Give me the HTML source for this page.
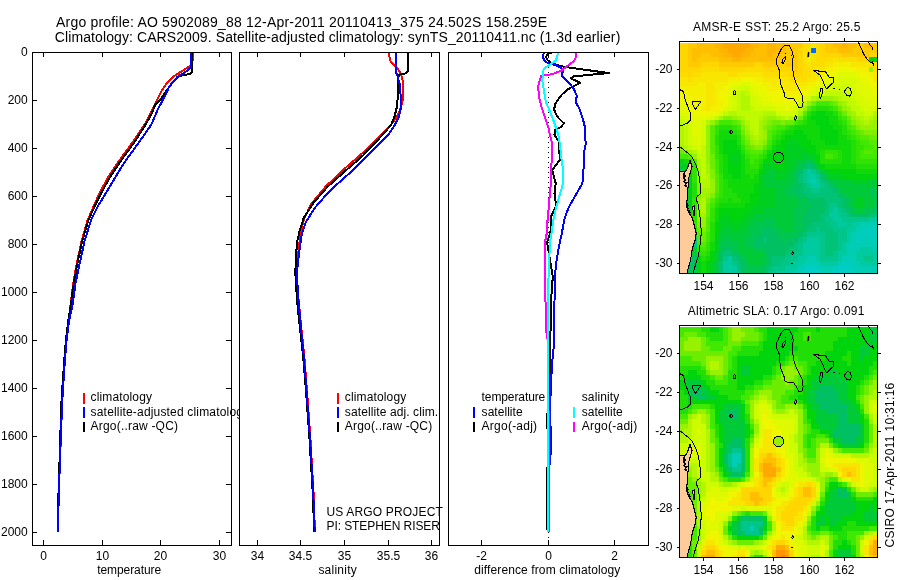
<!DOCTYPE html>
<html><head><meta charset="utf-8"><title>Argo profile</title>
<style>html,body{margin:0;padding:0;background:#fff;width:900px;height:580px;overflow:hidden}</style></head>
<body>
<svg width="900" height="580" viewBox="0 0 900 580" style="position:absolute;left:0;top:0;will-change:transform" font-family="'Liberation Sans', sans-serif" font-size="12" fill="#000" shape-rendering="crispEdges" text-rendering="optimizeLegibility">
<rect width="900" height="580" fill="#fff"/>
<defs><clipPath id="c1"><rect x="33" y="53" width="198" height="492"/></clipPath><clipPath id="c2"><rect x="240" y="53" width="199" height="492"/></clipPath><clipPath id="c3"><rect x="449" y="53" width="199" height="492"/></clipPath></defs>
<text x="56" y="26.5" font-size="14" textLength="491" lengthAdjust="spacing">Argo profile: AO 5902089_88 12-Apr-2011 20110413_375 24.502S 158.259E</text>
<text x="54.8" y="42.2" font-size="14" textLength="565.5" lengthAdjust="spacing">Climatology: CARS2009. Satellite-adjusted climatology: synTS_20110411.nc (1.3d earlier)</text>
<rect x="32.5" y="52.5" width="199" height="493" fill="#fff" stroke="#000" stroke-width="1"/>
<text x="27.7" y="56.1" text-anchor="end">0</text>
<path d="M33 100.5h4M231 100.5h-5" stroke="#000" stroke-width="1"/>
<text x="27.7" y="104.1" text-anchor="end">200</text>
<path d="M33 148.5h4M231 148.5h-5" stroke="#000" stroke-width="1"/>
<text x="27.7" y="152.1" text-anchor="end">400</text>
<path d="M33 196.5h4M231 196.5h-5" stroke="#000" stroke-width="1"/>
<text x="27.7" y="200.1" text-anchor="end">600</text>
<path d="M33 244.5h4M231 244.5h-5" stroke="#000" stroke-width="1"/>
<text x="27.7" y="248.1" text-anchor="end">800</text>
<path d="M33 292.5h4M231 292.5h-5" stroke="#000" stroke-width="1"/>
<text x="27.7" y="296.1" text-anchor="end">1000</text>
<path d="M33 340.5h4M231 340.5h-5" stroke="#000" stroke-width="1"/>
<text x="27.7" y="344.1" text-anchor="end">1200</text>
<path d="M33 388.5h4M231 388.5h-5" stroke="#000" stroke-width="1"/>
<text x="27.7" y="392.1" text-anchor="end">1400</text>
<path d="M33 436.5h4M231 436.5h-5" stroke="#000" stroke-width="1"/>
<text x="27.7" y="440.1" text-anchor="end">1600</text>
<path d="M33 484.5h4M231 484.5h-5" stroke="#000" stroke-width="1"/>
<text x="27.7" y="488.1" text-anchor="end">1800</text>
<path d="M33 532.5h4M231 532.5h-5" stroke="#000" stroke-width="1"/>
<text x="27.7" y="536.1" text-anchor="end">2000</text>
<path d="M43.5 545v-5M43.5 53v4" stroke="#000" stroke-width="1"/>
<text x="43.5" y="559.7" text-anchor="middle">0</text>
<path d="M102.5 545v-5M102.5 53v4" stroke="#000" stroke-width="1"/>
<text x="102.5" y="559.7" text-anchor="middle">10</text>
<path d="M160.5 545v-5M160.5 53v4" stroke="#000" stroke-width="1"/>
<text x="160.5" y="559.7" text-anchor="middle">20</text>
<path d="M219.5 545v-5M219.5 53v4" stroke="#000" stroke-width="1"/>
<text x="219.5" y="559.7" text-anchor="middle">30</text>
<g shape-rendering="crispEdges" clip-path="url(#c1)">
<polyline points="192.8,52.0 192.8,60.0 190.7,65.7 181.7,71.2 173.4,76.7 166.5,83.6 161.0,91.9 156.2,101.5 150.0,114.0 145.2,123.6 132.4,142.6 118.6,161.6 108.3,177.0 99.7,192.6 94.2,205.0 87.5,220.5 81.5,241.2 76.4,265.3 73.1,284.3 70.6,304.0 68.6,320.7 66.2,341.4 64.6,362.0 63.3,382.8 62.1,403.5 60.9,437.0 58.8,493.8 57.9,532.0" fill="none" stroke="#f00" stroke-width="2" stroke-linejoin="round"/>
<polyline points="192.4,52.0 192.4,71.2 190.0,74.0 179.0,76.0 172.8,82.2 166.5,90.5 161.0,98.8 155.5,104.3 151.4,114.0 146.2,123.6 134.1,142.6 120.3,161.6 110.0,177.0 101.4,192.6 95.2,205.0 88.3,220.5 82.2,241.2 77.0,265.3 73.6,284.3 71.0,304.0 68.3,320.7 65.8,341.4 64.1,362.0 62.7,382.8 61.4,403.5 60.3,437.0 58.5,493.8 57.9,532.0" fill="none" stroke="#000" stroke-width="2" stroke-linejoin="round"/>
<polyline points="191.2,52.0 191.2,66.4 187.0,71.0 177.6,76.7 169.3,86.4 165.0,96.0 158.3,108.4 151.4,124.3 149.7,127.0 137.6,144.3 123.8,163.3 113.4,180.5 103.1,197.8 98.6,205.0 90.9,220.5 84.5,241.2 79.3,265.3 75.3,284.3 72.8,304.0 69.0,320.7 66.5,341.4 64.8,362.0 63.4,382.8 62.1,403.5 60.8,437.0 58.8,493.8 57.9,532.0" fill="none" stroke="#00f" stroke-width="2" stroke-linejoin="round"/>
</g>
<rect x="83" y="393" width="2" height="11" fill="#f00"/>
<text x="90.6" y="401.3" textLength="61.4" lengthAdjust="spacing">climatology</text>
<rect x="83" y="407" width="2" height="11" fill="#00f"/>
<text x="90.6" y="415.6" textLength="158.5" lengthAdjust="spacing">satellite-adjusted climatology</text>
<rect x="83" y="422" width="2" height="10" fill="#000"/>
<text x="90.6" y="429.9" textLength="87.4" lengthAdjust="spacing">Argo(..raw -QC)</text>
<text x="97.2" y="574.4" textLength="63.9" lengthAdjust="spacing">temperature</text>
<rect x="239.5" y="52.5" width="200" height="493" fill="#fff" stroke="#000" stroke-width="1"/>
<path d="M257.5 545v-5M257.5 53v4" stroke="#000" stroke-width="1"/>
<text x="257.5" y="559.7" text-anchor="middle">34</text>
<path d="M300.5 545v-5M300.5 53v4" stroke="#000" stroke-width="1"/>
<text x="300.5" y="559.7" text-anchor="middle">34.5</text>
<path d="M344.5 545v-5M344.5 53v4" stroke="#000" stroke-width="1"/>
<text x="344.5" y="559.7" text-anchor="middle">35</text>
<path d="M388.5 545v-5M388.5 53v4" stroke="#000" stroke-width="1"/>
<text x="388.5" y="559.7" text-anchor="middle">35.5</text>
<path d="M431.5 545v-5M431.5 53v4" stroke="#000" stroke-width="1"/>
<text x="431.5" y="559.7" text-anchor="middle">36</text>
<g shape-rendering="crispEdges" clip-path="url(#c2)">
<polyline points="389.1,52.0 389.7,59.7 392.6,64.0 397.8,69.1 401.2,74.3 402.9,82.0 403.4,89.8 402.4,101.9 399.5,111.4 395.2,119.1 390.0,126.0 379.7,136.4 360.7,154.7 344.1,169.1 325.5,186.7 311.0,204.3 303.8,219.8 300.7,232.2 298.2,254.0 296.6,272.6 298.6,300.2 301.3,327.8 304.2,355.3 306.4,383.0 308.0,405.0 310.3,436.9 313.6,493.8 314.9,532.0" fill="none" stroke="#f00" stroke-width="2" stroke-linejoin="round"/>
<polyline points="407.8,52.0 408.0,70.9 405.5,73.4 399.5,74.7 397.8,77.8 397.8,96.7 396.9,107.0 394.3,117.4 390.9,125.2 384.0,133.0 382.4,135.0 362.8,155.7 346.2,170.2 327.6,186.7 313.1,203.3 303.8,217.8 299.7,230.2 297.0,242.6 296.2,254.0 295.3,272.6 297.0,300.2 299.9,327.8 303.0,355.3 305.4,383.0 307.0,405.0 309.4,436.9 312.8,493.8 314.2,532.0" fill="none" stroke="#000" stroke-width="2" stroke-linejoin="round"/>
<polyline points="395.5,52.0 395.5,70.9 397.8,76.9 399.8,84.7 400.7,96.7 400.7,108.8 398.6,117.4 394.3,126.0 388.3,134.7 369.0,153.6 348.3,174.3 329.7,190.9 315.2,207.4 305.9,221.9 301.7,234.3 299.0,254.0 296.8,272.6 298.4,300.2 300.9,327.8 303.7,355.3 305.9,383.0 307.5,405.0 309.9,436.9 313.3,493.8 314.7,532.0" fill="none" stroke="#00f" stroke-width="2" stroke-linejoin="round"/>
</g>
<rect x="337" y="393" width="2" height="11" fill="#f00"/>
<text x="344.8" y="401.3" textLength="61.4" lengthAdjust="spacing">climatology</text>
<rect x="337" y="407" width="2" height="11" fill="#00f"/>
<text x="344.8" y="415.6" textLength="93.4" lengthAdjust="spacing">satellite adj. clim.</text>
<rect x="337" y="422" width="2" height="10" fill="#000"/>
<text x="344.8" y="429.9" textLength="87.4" lengthAdjust="spacing">Argo(..raw -QC)</text>
<text x="326.5" y="516.3" textLength="116.3" lengthAdjust="spacing">US ARGO PROJECT</text>
<text x="326.5" y="530.4" textLength="113.4" lengthAdjust="spacing">PI: STEPHEN RISER</text>
<text x="318.4" y="574.4" textLength="38.3" lengthAdjust="spacing">salinity</text>
<rect x="448.5" y="52.5" width="200" height="493" fill="#fff" stroke="#000" stroke-width="1"/>
<path d="M481.5 545v-5M481.5 53v4" stroke="#000" stroke-width="1"/>
<text x="481.5" y="559.7" text-anchor="middle">-2</text>
<path d="M548.5 545v-5M548.5 53v4" stroke="#000" stroke-width="1"/>
<text x="548.5" y="559.7" text-anchor="middle">0</text>
<path d="M614.5 545v-5M614.5 53v4" stroke="#000" stroke-width="1"/>
<text x="614.5" y="559.7" text-anchor="middle">2</text>
<path d="M548.5 52V545" stroke="#000" stroke-width="1" stroke-dasharray="1 4" fill="none"/>
<g shape-rendering="crispEdges" clip-path="url(#c3)">
<polyline points="552.5,52.0 547.7,54.2 545.9,57.2 547.7,60.3 551.3,63.0 560.3,66.0 571.2,67.8 589.0,70.3 608.8,73.1 589.0,74.9 573.6,76.5 570.6,78.3 577.2,81.4 580.3,82.6 575.2,85.5 568.3,89.0 561.4,95.0 555.3,103.6 554.1,109.7 555.9,114.0 558.8,118.3 564.0,123.4 560.5,127.4 555.3,129.5 554.5,134.7 557.1,139.0 559.1,141.9 559.7,160.0 552.2,170.3 555.7,183.3 554.5,193.6 556.2,205.7 550.5,217.8 551.0,228.1 550.0,234.1 547.1,242.2 550.5,262.9 552.8,276.7 551.5,294.0 550.6,324.0 550.4,340.9 549.8,358.1 549.4,382.2 548.8,410.0 547.0,415.0 547.0,427.0 548.6,432.0 548.8,440.0 547.2,474.0 547.2,528.0 548.0,532.0" fill="none" stroke="#000" stroke-width="2" stroke-linejoin="round"/>
<polyline points="544.0,52.0 542.8,56.9 544.7,60.9 548.9,63.6 554.9,64.8 560.9,67.5 563.3,70.5 561.5,75.3 566.4,80.2 573.4,88.1 576.9,95.9 575.5,101.9 579.5,108.8 582.9,119.1 585.5,129.5 584.7,136.4 585.9,142.8 584.1,152.2 583.8,166.0 582.4,183.3 575.5,195.3 568.6,207.4 564.3,219.5 561.7,234.1 559.1,245.7 555.7,266.4 554.8,287.0 554.0,324.0 553.8,346.0 552.6,358.0 551.4,375.3 550.3,401.2 549.8,420.0 551.0,430.0 550.6,454.0 549.0,470.0 548.3,532.0" fill="none" stroke="#00f" stroke-width="2" stroke-linejoin="round"/>
<polyline points="575.4,52.0 576.0,57.2 573.6,61.5 567.6,65.7 561.5,70.5 554.9,73.2 548.9,74.7 544.0,75.0 541.0,75.9 539.5,81.4 538.1,86.4 539.0,96.7 541.6,107.0 545.0,117.4 548.4,127.8 550.0,135.0 552.2,143.6 552.2,157.4 550.5,171.2 550.5,186.7 549.3,200.5 548.3,212.6 547.1,224.7 546.6,234.1 545.3,240.5 545.3,276.7 545.7,324.0 546.2,331.0 547.6,340.0 548.0,400.0 549.4,430.0 549.4,530.0 548.5,532.0" fill="none" stroke="#f0f" stroke-width="2" stroke-linejoin="round"/>
<polyline points="557.9,52.0 557.3,57.2 554.9,61.5 548.9,65.1 544.0,68.7 542.8,71.7 542.4,81.2 544.1,91.6 545.9,101.9 550.2,112.2 553.6,120.9 556.6,129.5 558.3,135.0 560.0,145.3 561.7,160.9 563.1,169.5 562.6,185.0 559.1,197.1 555.7,209.1 553.1,221.2 551.4,234.1 550.0,242.2 548.8,268.1 548.0,294.0 548.0,324.0 548.0,414.0 548.2,440.0 548.2,532.0" fill="none" stroke="#0ff" stroke-width="2" stroke-linejoin="round"/>
</g>
<text x="481.6" y="401.3" textLength="63.7" lengthAdjust="spacing">temperature</text>
<rect x="473" y="407" width="2" height="11" fill="#00f"/>
<text x="481.6" y="415.6" textLength="41" lengthAdjust="spacing">satellite</text>
<rect x="473" y="422" width="2" height="10" fill="#000"/>
<text x="481.6" y="429.9" textLength="55.5" lengthAdjust="spacing">Argo(-adj)</text>
<text x="581.7" y="401.3" textLength="37.6" lengthAdjust="spacing">salinity</text>
<rect x="573" y="407" width="2" height="11" fill="#0ff"/>
<text x="581.7" y="415.6" textLength="41" lengthAdjust="spacing">satellite</text>
<rect x="573" y="422" width="2" height="10" fill="#f0f"/>
<text x="581.7" y="429.9" textLength="55.5" lengthAdjust="spacing">Argo(-adj)</text>
<text x="474.3" y="574.4" textLength="146" lengthAdjust="spacing">difference from climatology</text>
<g shape-rendering="crispEdges">
<path fill="#006cfc" d="M811 48h5v5h-5z"/>
<path fill="#00cdc6" d="M807 266h9v5h-9zM838 266h9v5h-9zM803 271h17v2h-17zM833 271h18v2h-18z"/>
<path fill="#00cdbd" d="M864 227h13v5h-13zM860 232h17v5h-17zM856 237h8v5h-8zM873 237h4v5h-4zM842 261h9v5h-9zM803 266h4v5h-4zM816 266h4v5h-4zM833 266h5v5h-5zM847 266h9v5h-9zM829 271h4v2h-4zM851 271h5v2h-5z"/>
<path fill="#00cdb4" d="M811 179h5v4h-5zM860 222h17v5h-17zM856 227h8v5h-8zM851 232h9v5h-9zM851 237h5v5h-5zM864 237h9v5h-9zM847 242h30v5h-30zM847 247h13v4h-13zM873 247h4v4h-4zM847 251h9v5h-9zM807 256h9v5h-9zM842 256h14v5h-14zM803 261h17v5h-17zM838 261h4v5h-4zM851 261h9v5h-9zM798 266h5v5h-5zM820 266h13v5h-13zM856 266h21v5h-21zM794 271h9v2h-9zM820 271h9v2h-9zM856 271h21v2h-21z"/>
<path fill="#00caa0" d="M807 169h4v5h-4zM807 174h9v5h-9zM807 179h4v4h-4zM816 179h4v4h-4zM811 183h9v5h-9zM833 208h5v5h-5zM829 213h9v4h-9zM833 217h9v5h-9zM869 217h8v5h-8zM838 222h9v5h-9zM851 222h9v5h-9zM847 227h9v5h-9zM847 232h4v5h-4zM807 237h13v5h-13zM847 237h4v5h-4zM803 242h17v5h-17zM842 242h5v5h-5zM803 247h17v4h-17zM842 247h5v4h-5zM860 247h13v4h-13zM803 251h17v5h-17zM838 251h9v5h-9zM856 251h21v5h-21zM688 256h4v5h-4zM728 256h4v5h-4zM798 256h9v5h-9zM816 256h4v5h-4zM838 256h4v5h-4zM856 256h8v5h-8zM873 256h4v5h-4zM723 261h9v5h-9zM794 261h9v5h-9zM820 261h18v5h-18zM860 261h17v5h-17zM723 266h14v5h-14zM785 266h13v5h-13zM723 271h14v2h-14zM776 271h18v2h-18z"/>
<path fill="#00c68c" d="M680 169h4v5h-4zM803 169h4v5h-4zM811 169h5v5h-5zM803 174h4v5h-4zM816 174h4v5h-4zM803 179h4v4h-4zM807 183h4v5h-4zM820 183h5v5h-5zM811 188h9v5h-9zM829 203h9v5h-9zM829 208h4v5h-4zM838 208h4v5h-4zM838 213h9v4h-9zM825 217h8v5h-8zM842 217h27v5h-27zM829 222h9v5h-9zM847 222h4v5h-4zM816 227h4v5h-4zM833 227h14v5h-14zM807 232h18v5h-18zM838 232h9v5h-9zM692 237h5v5h-5zM803 237h4v5h-4zM820 237h5v5h-5zM838 237h9v5h-9zM692 242h5v5h-5zM798 242h5v5h-5zM820 242h5v5h-5zM838 242h4v5h-4zM798 247h5v4h-5zM820 247h5v4h-5zM838 247h4v4h-4zM688 251h4v5h-4zM794 251h9v5h-9zM820 251h5v5h-5zM833 251h5v5h-5zM723 256h5v5h-5zM785 256h13v5h-13zM820 256h18v5h-18zM864 256h9v5h-9zM732 261h5v5h-5zM781 261h13v5h-13zM772 266h13v5h-13zM737 271h4v2h-4zM767 271h9v2h-9z"/>
<path fill="#00c378" d="M807 164h4v5h-4zM816 169h4v5h-4zM798 174h5v5h-5zM798 179h5v4h-5zM820 179h5v4h-5zM803 183h4v5h-4zM825 183h4v5h-4zM803 188h8v5h-8zM820 188h13v5h-13zM807 193h31v5h-31zM825 198h17v5h-17zM825 203h4v5h-4zM838 203h4v5h-4zM825 208h4v5h-4zM842 208h5v5h-5zM820 213h9v4h-9zM847 213h4v4h-4zM869 213h8v4h-8zM820 217h5v5h-5zM811 222h18v5h-18zM807 227h9v5h-9zM820 227h13v5h-13zM803 232h4v5h-4zM825 232h13v5h-13zM763 237h4v5h-4zM798 237h5v5h-5zM825 237h13v5h-13zM794 242h4v5h-4zM825 242h13v5h-13zM789 247h9v4h-9zM825 247h13v4h-13zM723 251h9v5h-9zM785 251h9v5h-9zM825 251h8v5h-8zM732 256h5v5h-5zM772 256h13v5h-13zM688 261h4v5h-4zM719 261h4v5h-4zM737 261h4v5h-4zM772 261h9v5h-9zM719 266h4v5h-4zM737 266h4v5h-4zM767 266h5v5h-5zM719 271h4v2h-4z"/>
<path fill="#00c064" d="M803 164h4v5h-4zM811 164h5v5h-5zM798 169h5v5h-5zM820 174h5v5h-5zM680 179h4v4h-4zM825 179h4v4h-4zM680 183h4v5h-4zM798 183h5v5h-5zM829 183h4v5h-4zM680 188h4v5h-4zM794 188h9v5h-9zM833 188h5v5h-5zM680 193h4v5h-4zM798 193h9v5h-9zM838 193h4v5h-4zM680 198h4v5h-4zM807 198h18v5h-18zM842 198h5v5h-5zM680 203h4v5h-4zM811 203h14v5h-14zM842 203h5v5h-5zM680 208h4v5h-4zM807 208h18v5h-18zM847 208h4v5h-4zM873 208h4v5h-4zM680 213h4v4h-4zM803 213h17v4h-17zM851 213h18v4h-18zM680 217h4v5h-4zM803 217h17v5h-17zM680 222h4v5h-4zM803 222h8v5h-8zM680 227h4v5h-4zM763 227h9v5h-9zM803 227h4v5h-4zM680 232h4v5h-4zM759 232h17v5h-17zM798 232h5v5h-5zM680 237h4v5h-4zM754 237h9v5h-9zM767 237h14v5h-14zM789 237h9v5h-9zM680 242h8v5h-8zM754 242h40v5h-40zM680 247h12v4h-12zM723 247h9v4h-9zM763 247h26v4h-26zM680 251h8v5h-8zM719 251h4v5h-4zM732 251h5v5h-5zM767 251h18v5h-18zM680 256h8v5h-8zM692 256h5v5h-5zM719 256h4v5h-4zM737 256h4v5h-4zM767 256h5v5h-5zM680 261h8v5h-8zM692 261h5v5h-5zM741 261h4v5h-4zM767 261h5v5h-5zM680 266h12v5h-12zM741 266h4v5h-4zM763 266h4v5h-4zM680 271h12v2h-12zM741 271h4v2h-4zM759 271h8v2h-8z"/>
<path fill="#00c54e" d="M803 159h8v5h-8zM798 164h5v5h-5zM794 169h4v5h-4zM794 174h4v5h-4zM684 179h4v4h-4zM789 179h9v4h-9zM829 179h4v4h-4zM684 183h4v5h-4zM789 183h9v5h-9zM833 183h5v5h-5zM684 188h4v5h-4zM785 188h9v5h-9zM838 188h4v5h-4zM869 188h8v5h-8zM684 193h4v5h-4zM785 193h13v5h-13zM842 193h5v5h-5zM869 193h8v5h-8zM684 198h4v5h-4zM798 198h9v5h-9zM847 198h4v5h-4zM873 198h4v5h-4zM684 203h4v5h-4zM798 203h13v5h-13zM847 203h4v5h-4zM873 203h4v5h-4zM684 208h4v5h-4zM794 208h13v5h-13zM851 208h5v5h-5zM864 208h9v5h-9zM684 213h4v4h-4zM794 213h9v4h-9zM684 217h4v5h-4zM763 217h13v5h-13zM794 217h9v5h-9zM684 222h4v5h-4zM754 222h22v5h-22zM794 222h9v5h-9zM684 227h4v5h-4zM750 227h13v5h-13zM772 227h9v5h-9zM794 227h9v5h-9zM684 232h4v5h-4zM750 232h9v5h-9zM776 232h22v5h-22zM684 237h4v5h-4zM723 237h9v5h-9zM745 237h9v5h-9zM781 237h8v5h-8zM688 242h4v5h-4zM719 242h18v5h-18zM745 242h9v5h-9zM719 247h4v4h-4zM732 247h5v4h-5zM754 247h9v4h-9zM737 251h4v5h-4zM763 251h4v5h-4zM741 256h4v5h-4zM763 256h4v5h-4zM715 261h4v5h-4zM745 261h5v5h-5zM763 261h4v5h-4zM692 266h5v5h-5zM715 266h4v5h-4zM745 266h18v5h-18zM692 271h5v2h-5zM715 271h4v2h-4zM745 271h14v2h-14z"/>
<path fill="#00ca38" d="M803 154h4v5h-4zM794 159h9v5h-9zM811 159h5v5h-5zM794 164h4v5h-4zM816 164h4v5h-4zM767 169h9v5h-9zM789 169h5v5h-5zM820 169h5v5h-5zM680 174h8v5h-8zM763 174h13v5h-13zM785 174h9v5h-9zM825 174h4v5h-4zM763 179h26v4h-26zM833 179h18v4h-18zM869 179h8v4h-8zM763 183h26v5h-26zM838 183h39v5h-39zM776 188h9v5h-9zM842 188h27v5h-27zM776 193h9v5h-9zM847 193h22v5h-22zM776 198h22v5h-22zM851 198h5v5h-5zM864 198h9v5h-9zM776 203h22v5h-22zM851 203h5v5h-5zM864 203h9v5h-9zM763 208h31v5h-31zM856 208h8v5h-8zM754 213h40v4h-40zM750 217h13v5h-13zM776 217h18v5h-18zM745 222h9v5h-9zM776 222h18v5h-18zM723 227h9v5h-9zM741 227h9v5h-9zM781 227h13v5h-13zM719 232h31v5h-31zM688 237h4v5h-4zM719 237h4v5h-4zM732 237h13v5h-13zM737 242h8v5h-8zM737 247h17v4h-17zM692 251h5v5h-5zM715 251h4v5h-4zM741 251h22v5h-22zM715 256h4v5h-4zM745 256h18v5h-18zM750 261h13v5h-13z"/>
<path fill="#00cf22" d="M789 140h9v5h-9zM785 145h18v5h-18zM785 150h22v4h-22zM732 154h5v5h-5zM785 154h18v5h-18zM807 154h9v5h-9zM732 159h5v5h-5zM785 159h9v5h-9zM680 164h8v5h-8zM763 164h13v5h-13zM785 164h9v5h-9zM684 169h4v5h-4zM763 169h4v5h-4zM776 169h13v5h-13zM825 169h4v5h-4zM688 174h4v5h-4zM759 174h4v5h-4zM776 174h9v5h-9zM829 174h13v5h-13zM688 179h4v4h-4zM759 179h4v4h-4zM851 179h18v4h-18zM688 183h4v5h-4zM759 183h4v5h-4zM688 188h4v5h-4zM759 188h17v5h-17zM688 193h4v5h-4zM759 193h17v5h-17zM688 198h4v5h-4zM759 198h17v5h-17zM856 198h8v5h-8zM688 203h4v5h-4zM754 203h22v5h-22zM856 203h8v5h-8zM688 208h4v5h-4zM750 208h13v5h-13zM688 213h4v4h-4zM723 213h5v4h-5zM745 213h9v4h-9zM719 217h13v5h-13zM741 217h9v5h-9zM719 222h26v5h-26zM688 227h4v5h-4zM719 227h4v5h-4zM732 227h9v5h-9zM688 232h4v5h-4zM715 237h4v5h-4zM715 242h4v5h-4zM692 247h5v4h-5zM715 247h4v4h-4zM710 261h5v5h-5zM710 266h5v5h-5zM710 271h5v2h-5z"/>
<path fill="#00d40c" d="M869 57h8v5h-8zM816 111h9v5h-9zM811 116h18v4h-18zM816 120h13v5h-13zM820 125h13v5h-13zM794 130h9v5h-9zM820 130h18v5h-18zM785 135h22v5h-22zM820 135h18v5h-18zM723 140h14v5h-14zM781 140h8v5h-8zM798 140h13v5h-13zM825 140h13v5h-13zM723 145h14v5h-14zM776 145h9v5h-9zM803 145h13v5h-13zM723 150h18v4h-18zM772 150h13v4h-13zM807 150h9v4h-9zM728 154h4v5h-4zM737 154h4v5h-4zM767 154h18v5h-18zM816 154h4v5h-4zM680 159h4v5h-4zM728 159h4v5h-4zM737 159h4v5h-4zM763 159h22v5h-22zM816 159h4v5h-4zM688 164h4v5h-4zM728 164h13v5h-13zM776 164h9v5h-9zM820 164h5v5h-5zM688 169h4v5h-4zM728 169h13v5h-13zM759 169h4v5h-4zM829 169h27v5h-27zM732 174h9v5h-9zM842 174h35v5h-35zM754 183h5v5h-5zM754 188h5v5h-5zM750 193h9v5h-9zM750 198h9v5h-9zM745 203h9v5h-9zM719 208h31v5h-31zM719 213h4v4h-4zM728 213h17v4h-17zM688 217h4v5h-4zM732 217h9v5h-9zM688 222h4v5h-4zM715 222h4v5h-4zM715 227h4v5h-4zM715 232h4v5h-4zM710 251h5v5h-5zM697 256h4v5h-4zM710 256h5v5h-5zM697 261h4v5h-4zM706 261h4v5h-4zM697 266h4v5h-4zM706 266h4v5h-4zM697 271h4v2h-4zM706 271h4v2h-4z"/>
<path fill="#10d909" d="M811 111h5v5h-5zM825 111h8v5h-8zM807 116h4v4h-4zM829 116h9v4h-9zM807 120h9v5h-9zM829 120h9v5h-9zM794 125h26v5h-26zM833 125h9v5h-9zM719 130h13v5h-13zM785 130h9v5h-9zM803 130h17v5h-17zM838 130h4v5h-4zM719 135h18v5h-18zM781 135h4v5h-4zM807 135h13v5h-13zM838 135h9v5h-9zM719 140h4v5h-4zM776 140h5v5h-5zM811 140h14v5h-14zM838 140h13v5h-13zM719 145h4v5h-4zM737 145h4v5h-4zM772 145h4v5h-4zM816 145h35v5h-35zM719 150h4v4h-4zM767 150h5v4h-5zM816 150h4v4h-4zM842 150h9v4h-9zM723 154h5v5h-5zM741 154h4v5h-4zM842 154h9v5h-9zM684 159h4v5h-4zM723 159h5v5h-5zM741 159h4v5h-4zM842 159h9v5h-9zM723 164h5v5h-5zM741 164h4v5h-4zM759 164h4v5h-4zM825 164h31v5h-31zM723 169h5v5h-5zM741 169h4v5h-4zM856 169h21v5h-21zM723 174h9v5h-9zM741 174h9v5h-9zM754 174h5v5h-5zM728 179h31v4h-31zM728 183h26v5h-26zM732 188h22v5h-22zM737 193h13v5h-13zM728 198h4v5h-4zM741 198h9v5h-9zM719 203h26v5h-26zM715 208h4v5h-4zM715 213h4v4h-4zM715 217h4v5h-4zM692 232h5v5h-5zM710 242h5v5h-5zM710 247h5v4h-5zM706 256h4v5h-4zM701 261h5v5h-5zM701 266h5v5h-5zM701 271h5v2h-5z"/>
<path fill="#20de06" d="M816 106h13v5h-13zM807 111h4v5h-4zM833 111h5v5h-5zM803 120h4v5h-4zM838 120h4v5h-4zM719 125h13v5h-13zM789 125h5v5h-5zM842 125h5v5h-5zM732 130h5v5h-5zM781 130h4v5h-4zM842 130h5v5h-5zM715 135h4v5h-4zM737 135h4v5h-4zM776 135h5v5h-5zM847 135h4v5h-4zM715 140h4v5h-4zM737 140h4v5h-4zM772 140h4v5h-4zM851 140h5v5h-5zM851 145h5v5h-5zM741 150h4v4h-4zM820 150h5v4h-5zM838 150h4v4h-4zM851 150h5v4h-5zM719 154h4v5h-4zM763 154h4v5h-4zM820 154h5v5h-5zM838 154h4v5h-4zM851 154h5v5h-5zM688 159h4v5h-4zM719 159h4v5h-4zM745 159h5v5h-5zM759 159h4v5h-4zM820 159h22v5h-22zM851 159h5v5h-5zM719 164h4v5h-4zM745 164h5v5h-5zM856 164h21v5h-21zM719 169h4v5h-4zM745 169h14v5h-14zM750 174h4v5h-4zM723 179h5v4h-5zM692 183h5v5h-5zM723 183h5v5h-5zM692 188h5v5h-5zM723 188h9v5h-9zM692 193h5v5h-5zM723 193h14v5h-14zM719 198h9v5h-9zM732 198h9v5h-9zM715 203h4v5h-4zM710 222h5v5h-5zM692 227h5v5h-5zM710 227h5v5h-5zM710 232h5v5h-5zM710 237h5v5h-5zM697 251h4v5h-4zM706 251h4v5h-4zM701 256h5v5h-5z"/>
<path fill="#31e303" d="M811 106h5v5h-5zM829 106h4v5h-4zM803 116h4v4h-4zM838 116h4v4h-4zM798 120h5v5h-5zM842 120h5v5h-5zM715 125h4v5h-4zM732 125h5v5h-5zM785 125h4v5h-4zM715 130h4v5h-4zM737 130h4v5h-4zM776 130h5v5h-5zM847 130h4v5h-4zM772 135h4v5h-4zM851 135h5v5h-5zM856 140h4v5h-4zM715 145h4v5h-4zM741 145h4v5h-4zM767 145h5v5h-5zM856 145h8v5h-8zM715 150h4v4h-4zM763 150h4v4h-4zM825 150h13v4h-13zM856 150h4v4h-4zM715 154h4v5h-4zM745 154h5v5h-5zM759 154h4v5h-4zM833 154h5v5h-5zM856 154h4v5h-4zM754 159h5v5h-5zM856 159h21v5h-21zM692 164h5v5h-5zM750 164h9v5h-9zM692 169h5v5h-5zM692 174h5v5h-5zM719 174h4v5h-4zM692 179h5v4h-5zM719 179h4v4h-4zM719 183h4v5h-4zM719 188h4v5h-4zM719 193h4v5h-4zM692 198h5v5h-5zM715 198h4v5h-4zM692 203h5v5h-5zM692 208h5v5h-5zM710 208h5v5h-5zM692 213h5v4h-5zM710 213h5v4h-5zM692 217h5v5h-5zM710 217h5v5h-5zM692 222h5v5h-5zM706 242h4v5h-4zM697 247h4v4h-4zM706 247h4v4h-4zM701 251h5v5h-5z"/>
<path fill="#41e800" d="M816 101h13v5h-13zM833 106h5v5h-5zM838 111h4v5h-4zM842 116h5v4h-5zM719 120h13v5h-13zM794 120h4v5h-4zM737 125h4v5h-4zM776 125h9v5h-9zM847 125h4v5h-4zM772 130h4v5h-4zM851 130h5v5h-5zM856 135h4v5h-4zM741 140h4v5h-4zM767 140h5v5h-5zM860 140h9v5h-9zM864 145h9v5h-9zM745 150h5v4h-5zM860 150h4v4h-4zM873 150h4v4h-4zM680 154h8v5h-8zM750 154h9v5h-9zM825 154h8v5h-8zM860 154h17v5h-17zM715 159h4v5h-4zM750 159h4v5h-4zM715 164h4v5h-4zM715 169h4v5h-4zM715 193h4v5h-4zM710 203h5v5h-5zM706 232h4v5h-4zM706 237h4v5h-4zM697 242h4v5h-4zM701 247h5v4h-5z"/>
<path fill="#56ea00" d="M829 101h4v5h-4zM807 106h4v5h-4zM803 111h4v5h-4zM732 120h5v5h-5zM847 120h4v5h-4zM710 125h5v5h-5zM772 125h4v5h-4zM851 125h5v5h-5zM710 130h5v5h-5zM767 130h5v5h-5zM856 130h4v5h-4zM710 135h5v5h-5zM741 135h4v5h-4zM767 135h5v5h-5zM860 135h9v5h-9zM710 140h5v5h-5zM869 140h8v5h-8zM710 145h5v5h-5zM745 145h5v5h-5zM763 145h4v5h-4zM873 145h4v5h-4zM710 150h5v4h-5zM750 150h13v4h-13zM864 150h9v4h-9zM688 154h4v5h-4zM692 159h5v5h-5zM715 174h4v5h-4zM715 179h4v4h-4zM715 183h4v5h-4zM715 188h4v5h-4zM710 198h5v5h-5zM706 217h4v5h-4zM706 222h4v5h-4zM706 227h4v5h-4zM697 232h4v5h-4zM697 237h4v5h-4zM701 242h5v5h-5z"/>
<path fill="#6ced00" d="M811 101h5v5h-5zM833 101h5v5h-5zM838 106h4v5h-4zM842 111h5v5h-5zM798 116h5v4h-5zM847 116h4v4h-4zM715 120h4v5h-4zM737 120h4v5h-4zM772 120h9v5h-9zM785 120h9v5h-9zM767 125h5v5h-5zM741 130h4v5h-4zM860 130h4v5h-4zM869 135h8v5h-8zM745 140h5v5h-5zM750 145h4v5h-4zM680 150h4v4h-4zM710 154h5v5h-5zM710 159h5v5h-5zM710 164h5v5h-5zM706 203h4v5h-4zM706 208h4v5h-4zM706 213h4v4h-4zM697 227h4v5h-4zM701 232h5v5h-5zM701 237h5v5h-5z"/>
<path fill="#81f000" d="M723 116h9v4h-9zM767 120h5v5h-5zM781 120h4v5h-4zM851 120h5v5h-5zM741 125h4v5h-4zM763 125h4v5h-4zM856 125h4v5h-4zM864 130h13v5h-13zM745 135h5v5h-5zM763 140h4v5h-4zM754 145h9v5h-9zM684 150h4v4h-4zM710 169h5v5h-5zM710 174h5v5h-5zM697 183h4v5h-4zM697 188h4v5h-4zM697 193h4v5h-4zM710 193h5v5h-5zM706 198h4v5h-4zM697 222h4v5h-4zM701 227h5v5h-5z"/>
<path fill="#96f200" d="M869 67h4v5h-4zM820 96h13v5h-13zM807 101h4v5h-4zM838 101h4v5h-4zM803 106h4v5h-4zM842 106h5v5h-5zM847 111h4v5h-4zM732 116h5v4h-5zM767 116h9v4h-9zM851 116h5v4h-5zM710 120h5v5h-5zM741 120h4v5h-4zM763 120h4v5h-4zM856 120h4v5h-4zM873 120h4v5h-4zM706 125h4v5h-4zM860 125h17v5h-17zM706 130h4v5h-4zM745 130h5v5h-5zM763 130h4v5h-4zM706 135h4v5h-4zM763 135h4v5h-4zM706 140h4v5h-4zM750 140h4v5h-4zM759 140h4v5h-4zM706 145h4v5h-4zM706 150h4v4h-4zM692 154h5v5h-5zM706 154h4v5h-4zM706 159h4v5h-4zM697 174h4v5h-4zM697 179h4v4h-4zM710 179h5v4h-5zM710 183h5v5h-5zM710 188h5v5h-5zM706 193h4v5h-4zM697 198h4v5h-4zM697 213h4v4h-4zM697 217h9v5h-9zM701 222h5v5h-5z"/>
<path fill="#a4f400" d="M816 96h4v5h-4zM833 96h5v5h-5zM842 101h5v5h-5zM847 106h4v5h-4zM798 111h5v5h-5zM851 111h5v5h-5zM719 116h4v4h-4zM737 116h4v4h-4zM763 116h4v4h-4zM776 116h5v4h-5zM794 116h4v4h-4zM856 116h4v4h-4zM873 116h4v4h-4zM759 120h4v5h-4zM860 120h4v5h-4zM869 120h4v5h-4zM745 125h5v5h-5zM759 125h4v5h-4zM759 130h4v5h-4zM750 135h4v5h-4zM759 135h4v5h-4zM754 140h5v5h-5zM680 145h4v5h-4zM688 150h4v4h-4zM706 164h4v5h-4zM697 169h4v5h-4zM706 169h4v5h-4zM701 188h9v5h-9zM701 193h5v5h-5zM697 203h4v5h-4zM697 208h4v5h-4zM701 213h5v4h-5z"/>
<path fill="#b2f700" d="M741 91h4v5h-4zM741 96h9v5h-9zM811 96h5v5h-5zM838 96h4v5h-4zM741 101h9v5h-9zM741 106h9v5h-9zM728 111h9v5h-9zM763 111h13v5h-13zM873 111h4v5h-4zM741 116h4v4h-4zM759 116h4v4h-4zM781 116h4v4h-4zM789 116h5v4h-5zM860 116h4v4h-4zM869 116h4v4h-4zM706 120h4v5h-4zM745 120h5v5h-5zM864 120h5v5h-5zM680 125h4v5h-4zM680 130h4v5h-4zM750 130h4v5h-4zM680 135h4v5h-4zM754 135h5v5h-5zM680 140h4v5h-4zM684 145h4v5h-4zM692 150h5v4h-5zM697 159h4v5h-4zM697 164h4v5h-4zM706 174h4v5h-4zM701 179h9v4h-9zM701 183h9v5h-9zM701 198h5v5h-5zM701 203h5v5h-5zM701 208h5v5h-5z"/>
<path fill="#bffa00" d="M737 91h4v5h-4zM745 91h5v5h-5zM825 91h22v5h-22zM737 96h4v5h-4zM842 96h9v5h-9zM737 101h4v5h-4zM803 101h4v5h-4zM847 101h9v5h-9zM737 106h4v5h-4zM750 106h4v5h-4zM798 106h5v5h-5zM851 106h9v5h-9zM723 111h5v5h-5zM737 111h26v5h-26zM856 111h8v5h-8zM715 116h4v4h-4zM745 116h14v4h-14zM785 116h4v4h-4zM864 116h5v4h-5zM680 120h4v5h-4zM750 120h9v5h-9zM684 125h4v5h-4zM750 125h9v5h-9zM684 130h4v5h-4zM754 130h5v5h-5zM684 135h4v5h-4zM684 140h4v5h-4zM688 145h4v5h-4zM701 145h5v5h-5zM701 150h5v4h-5zM697 154h9v5h-9zM701 159h5v5h-5zM701 164h5v5h-5zM701 169h5v5h-5zM701 174h5v5h-5z"/>
<path fill="#cdfc00" d="M842 82h5v4h-5zM741 86h9v5h-9zM833 86h18v5h-18zM816 91h9v5h-9zM847 91h9v5h-9zM732 96h5v5h-5zM750 96h4v5h-4zM807 96h4v5h-4zM851 96h5v5h-5zM750 101h4v5h-4zM856 101h4v5h-4zM732 106h5v5h-5zM754 106h18v5h-18zM860 106h4v5h-4zM776 111h5v5h-5zM794 111h4v5h-4zM864 111h9v5h-9zM680 116h4v4h-4zM684 120h4v5h-4zM688 125h4v5h-4zM701 125h5v5h-5zM688 130h4v5h-4zM701 130h5v5h-5zM688 135h4v5h-4zM701 135h5v5h-5zM688 140h4v5h-4zM701 140h5v5h-5zM692 145h5v5h-5zM697 150h4v4h-4z"/>
<path fill="#d6fa00" d="M838 77h18v5h-18zM833 82h9v4h-9zM847 82h9v4h-9zM737 86h4v5h-4zM825 86h8v5h-8zM851 86h5v5h-5zM732 91h5v5h-5zM750 91h4v5h-4zM856 91h4v5h-4zM754 96h5v5h-5zM856 96h8v5h-8zM732 101h5v5h-5zM754 101h9v5h-9zM798 101h5v5h-5zM860 101h9v5h-9zM728 106h4v5h-4zM772 106h4v5h-4zM794 106h4v5h-4zM864 106h13v5h-13zM719 111h4v5h-4zM781 111h13v5h-13zM684 116h4v4h-4zM710 116h5v4h-5zM688 120h4v5h-4zM701 120h5v5h-5zM692 135h5v5h-5zM692 140h5v5h-5zM697 145h4v5h-4z"/>
<path fill="#def900" d="M838 72h18v5h-18zM833 77h5v5h-5zM856 77h4v5h-4zM741 82h9v4h-9zM825 82h8v4h-8zM856 82h8v4h-8zM732 86h5v5h-5zM750 86h4v5h-4zM816 86h9v5h-9zM856 86h13v5h-13zM754 91h5v5h-5zM811 91h5v5h-5zM860 91h13v5h-13zM728 96h4v5h-4zM759 96h4v5h-4zM803 96h4v5h-4zM864 96h13v5h-13zM728 101h4v5h-4zM763 101h9v5h-9zM869 101h8v5h-8zM680 106h4v5h-4zM723 106h5v5h-5zM776 106h9v5h-9zM789 106h5v5h-5zM680 111h8v5h-8zM688 116h4v4h-4zM706 116h4v4h-4zM692 120h9v5h-9zM692 125h9v5h-9zM692 130h9v5h-9zM697 135h4v5h-4zM697 140h4v5h-4z"/>
<path fill="#e7f800" d="M842 67h5v5h-5zM833 72h5v5h-5zM856 72h4v5h-4zM825 77h8v5h-8zM860 77h9v5h-9zM732 82h9v4h-9zM750 82h4v4h-4zM820 82h5v4h-5zM864 82h5v4h-5zM728 86h4v5h-4zM754 86h9v5h-9zM811 86h5v5h-5zM869 86h8v5h-8zM728 91h4v5h-4zM759 91h8v5h-8zM807 91h4v5h-4zM873 91h4v5h-4zM763 96h9v5h-9zM798 96h5v5h-5zM680 101h8v5h-8zM772 101h26v5h-26zM684 106h8v5h-8zM785 106h4v5h-4zM688 111h9v5h-9zM715 111h4v5h-4zM692 116h14v4h-14z"/>
<path fill="#f0f600" d="M833 67h9v5h-9zM847 67h9v5h-9zM825 72h8v5h-8zM860 72h9v5h-9zM741 77h13v5h-13zM820 77h5v5h-5zM869 77h4v5h-4zM728 82h4v4h-4zM754 82h9v4h-9zM816 82h4v4h-4zM869 82h8v4h-8zM723 86h5v5h-5zM763 86h4v5h-4zM807 86h4v5h-4zM680 91h8v5h-8zM719 91h9v5h-9zM767 91h18v5h-18zM803 91h4v5h-4zM680 96h12v5h-12zM719 96h9v5h-9zM772 96h26v5h-26zM688 101h9v5h-9zM723 101h5v5h-5zM692 106h9v5h-9zM719 106h4v5h-4zM697 111h18v5h-18z"/>
<path fill="#f4ee00" d="M807 53h4v4h-4zM807 57h4v5h-4zM833 62h18v5h-18zM825 67h8v5h-8zM856 67h13v5h-13zM820 72h5v5h-5zM869 72h4v5h-4zM728 77h13v5h-13zM754 77h9v5h-9zM816 77h4v5h-4zM697 82h9v4h-9zM715 82h13v4h-13zM763 82h9v4h-9zM776 82h5v4h-5zM807 82h9v4h-9zM680 86h26v5h-26zM715 86h8v5h-8zM767 86h18v5h-18zM798 86h9v5h-9zM688 91h18v5h-18zM715 91h4v5h-4zM785 91h18v5h-18zM692 96h14v5h-14zM715 96h4v5h-4zM697 101h9v5h-9zM715 101h8v5h-8zM701 106h5v5h-5zM710 106h9v5h-9z"/>
<path fill="#f8e600" d="M811 43h5v5h-5zM807 48h4v5h-4zM803 53h4v4h-4zM811 53h5v4h-5zM803 57h4v5h-4zM811 57h5v5h-5zM833 57h5v5h-5zM807 62h4v5h-4zM825 62h8v5h-8zM851 62h22v5h-22zM816 67h9v5h-9zM701 72h27v5h-27zM737 72h26v5h-26zM811 72h9v5h-9zM873 72h4v5h-4zM680 77h8v5h-8zM692 77h36v5h-36zM763 77h26v5h-26zM807 77h9v5h-9zM873 77h4v5h-4zM680 82h17v4h-17zM706 82h9v4h-9zM772 82h4v4h-4zM781 82h26v4h-26zM706 86h9v5h-9zM785 86h13v5h-13zM706 91h9v5h-9zM706 96h9v5h-9zM706 101h9v5h-9zM706 106h4v5h-4z"/>
<path fill="#fbde00" d="M803 43h8v5h-8zM816 43h4v5h-4zM803 48h4v5h-4zM816 48h4v5h-4zM816 53h4v4h-4zM816 57h17v5h-17zM838 57h18v5h-18zM803 62h4v5h-4zM811 62h14v5h-14zM873 62h4v5h-4zM701 67h18v5h-18zM745 67h18v5h-18zM803 67h13v5h-13zM873 67h4v5h-4zM680 72h8v5h-8zM692 72h9v5h-9zM728 72h9v5h-9zM763 72h26v5h-26zM803 72h8v5h-8zM688 77h4v5h-4zM789 77h18v5h-18z"/>
<path fill="#ffd600" d="M680 43h8v5h-8zM820 43h5v5h-5zM680 48h8v5h-8zM798 48h5v5h-5zM820 48h5v5h-5zM680 53h8v4h-8zM798 53h5v4h-5zM820 53h22v4h-22zM869 53h8v4h-8zM680 57h8v5h-8zM798 57h5v5h-5zM856 57h13v5h-13zM680 62h8v5h-8zM701 62h18v5h-18zM754 62h9v5h-9zM781 62h4v5h-4zM798 62h5v5h-5zM680 67h21v5h-21zM719 67h26v5h-26zM763 67h31v5h-31zM798 67h5v5h-5zM688 72h4v5h-4zM789 72h14v5h-14z"/>
<path fill="#ffca00" d="M688 43h9v5h-9zM785 43h18v5h-18zM825 43h8v5h-8zM856 43h8v5h-8zM873 43h4v5h-4zM688 48h4v5h-4zM785 48h13v5h-13zM825 48h13v5h-13zM851 48h26v5h-26zM688 53h4v4h-4zM701 53h9v4h-9zM781 53h17v4h-17zM842 53h27v4h-27zM688 57h4v5h-4zM697 57h22v5h-22zM776 57h22v5h-22zM688 62h13v5h-13zM719 62h35v5h-35zM763 62h18v5h-18zM785 62h13v5h-13zM794 67h4v5h-4z"/>
<path fill="#ffbf00" d="M697 43h18v5h-18zM759 43h8v5h-8zM776 43h9v5h-9zM833 43h9v5h-9zM847 43h9v5h-9zM864 43h9v5h-9zM692 48h27v5h-27zM754 48h13v5h-13zM776 48h9v5h-9zM838 48h13v5h-13zM692 53h9v4h-9zM710 53h13v4h-13zM750 53h17v4h-17zM772 53h9v4h-9zM692 57h5v5h-5zM719 57h13v5h-13zM741 57h35v5h-35z"/>
<path fill="#ffb400" d="M715 43h8v5h-8zM750 43h9v5h-9zM767 43h9v5h-9zM842 43h5v5h-5zM719 48h9v5h-9zM745 48h9v5h-9zM767 48h9v5h-9zM723 53h9v4h-9zM741 53h9v4h-9zM767 53h5v4h-5zM732 57h9v5h-9z"/>
<path fill="#ffa800" d="M723 43h27v5h-27zM728 48h17v5h-17zM732 53h9v4h-9z"/>
<path fill="#00cdb4" d="M732 453h9v5h-9zM732 458h9v5h-9zM732 463h5v4h-5zM750 526h4v5h-4z"/>
<path fill="#00c68c" d="M732 448h9v5h-9zM728 453h4v5h-4zM728 458h4v5h-4zM728 463h4v4h-4zM737 463h4v4h-4zM732 467h9v5h-9zM741 521h22v5h-22zM741 526h9v5h-9zM754 526h5v5h-5zM745 531h14v4h-14z"/>
<path fill="#00c064" d="M820 385h13v5h-13zM692 390h9v5h-9zM816 390h22v5h-22zM697 395h9v5h-9zM816 395h22v5h-22zM816 400h26v4h-26zM820 404h27v5h-27zM728 409h9v5h-9zM825 409h22v5h-22zM732 414h5v5h-5zM838 414h9v5h-9zM838 419h9v5h-9zM838 424h22v5h-22zM833 429h27v5h-27zM833 434h27v4h-27zM732 438h9v5h-9zM842 438h14v5h-14zM728 443h13v5h-13zM728 448h4v5h-4zM741 448h4v5h-4zM723 453h5v5h-5zM741 453h4v5h-4zM723 458h5v5h-5zM741 458h4v5h-4zM741 463h4v4h-4zM728 467h4v5h-4zM741 467h4v5h-4zM732 472h9v5h-9zM838 487h4v5h-4zM838 492h9v5h-9zM741 516h22v5h-22zM737 521h4v5h-4zM737 526h4v5h-4zM759 526h4v5h-4zM737 531h8v4h-8zM759 531h4v4h-4z"/>
<path fill="#00ca38" d="M869 327h8v5h-8zM869 332h8v5h-8zM869 337h8v4h-8zM869 341h4v5h-4zM860 346h9v5h-9zM860 351h9v5h-9zM860 356h4v5h-4zM741 366h9v4h-9zM741 370h9v5h-9zM829 370h9v5h-9zM816 375h26v5h-26zM688 380h13v5h-13zM811 380h36v5h-36zM688 385h18v5h-18zM811 385h9v5h-9zM833 385h14v5h-14zM688 390h4v5h-4zM701 390h9v5h-9zM807 390h9v5h-9zM838 390h9v5h-9zM688 395h9v5h-9zM706 395h9v5h-9zM807 395h9v5h-9zM838 395h9v5h-9zM807 400h9v4h-9zM842 400h9v4h-9zM723 404h18v5h-18zM811 404h9v5h-9zM847 404h9v5h-9zM719 409h9v5h-9zM737 409h4v5h-4zM816 409h9v5h-9zM847 409h13v5h-13zM719 414h13v5h-13zM737 414h4v5h-4zM816 414h22v5h-22zM847 414h13v5h-13zM719 419h26v5h-26zM816 419h22v5h-22zM847 419h13v5h-13zM723 424h22v5h-22zM820 424h18v5h-18zM860 424h4v5h-4zM723 429h22v5h-22zM829 429h4v5h-4zM860 429h4v5h-4zM723 434h22v4h-22zM829 434h4v4h-4zM860 434h4v4h-4zM723 438h9v5h-9zM741 438h4v5h-4zM833 438h9v5h-9zM856 438h8v5h-8zM723 443h5v5h-5zM741 443h4v5h-4zM842 443h18v5h-18zM723 448h5v5h-5zM723 463h5v4h-5zM723 467h5v5h-5zM728 472h4v5h-4zM741 472h4v5h-4zM833 487h5v5h-5zM842 487h5v5h-5zM829 492h9v5h-9zM847 492h4v5h-4zM829 497h22v4h-22zM825 501h31v5h-31zM825 506h31v5h-31zM869 506h4v5h-4zM825 511h26v5h-26zM864 511h13v5h-13zM737 516h4v5h-4zM820 516h5v5h-5zM829 516h13v5h-13zM864 516h13v5h-13zM732 521h5v5h-5zM763 521h4v5h-4zM816 521h9v5h-9zM829 521h9v5h-9zM732 526h5v5h-5zM732 531h5v4h-5zM838 550h13v5h-13zM838 555h13v2h-13z"/>
<path fill="#00d40c" d="M710 327h9v5h-9zM767 327h31v5h-31zM816 327h4v5h-4zM847 327h22v5h-22zM767 332h27v5h-27zM847 332h22v5h-22zM767 337h27v4h-27zM838 337h31v4h-31zM763 341h31v5h-31zM833 341h36v5h-36zM873 341h4v5h-4zM763 346h35v5h-35zM833 346h27v5h-27zM869 346h8v5h-8zM759 351h30v5h-30zM825 351h22v5h-22zM851 351h9v5h-9zM869 351h8v5h-8zM737 356h48v5h-48zM825 356h17v5h-17zM851 356h9v5h-9zM864 356h13v5h-13zM737 361h39v5h-39zM816 361h31v5h-31zM851 361h22v5h-22zM737 366h4v4h-4zM750 366h22v4h-22zM811 366h58v4h-58zM688 370h9v5h-9zM737 370h4v5h-4zM750 370h22v5h-22zM811 370h18v5h-18zM838 370h31v5h-31zM684 375h17v5h-17zM737 375h26v5h-26zM807 375h9v5h-9zM842 375h22v5h-22zM680 380h8v5h-8zM701 380h5v5h-5zM737 380h17v5h-17zM807 380h4v5h-4zM847 380h13v5h-13zM680 385h8v5h-8zM706 385h4v5h-4zM737 385h8v5h-8zM803 385h8v5h-8zM847 385h9v5h-9zM684 390h4v5h-4zM710 390h9v5h-9zM803 390h4v5h-4zM847 390h9v5h-9zM715 395h13v5h-13zM798 395h9v5h-9zM847 395h9v5h-9zM688 400h53v4h-53zM803 400h4v4h-4zM851 400h5v4h-5zM715 404h8v5h-8zM741 404h4v5h-4zM807 404h4v5h-4zM856 404h4v5h-4zM715 409h4v5h-4zM741 409h4v5h-4zM807 409h9v5h-9zM715 414h4v5h-4zM741 414h4v5h-4zM807 414h9v5h-9zM860 414h4v5h-4zM715 419h4v5h-4zM811 419h5v5h-5zM860 419h4v5h-4zM719 424h4v5h-4zM745 424h5v5h-5zM811 424h9v5h-9zM719 429h4v5h-4zM745 429h5v5h-5zM820 429h9v5h-9zM719 434h4v4h-4zM745 434h5v4h-5zM719 438h4v5h-4zM838 443h4v5h-4zM860 443h4v5h-4zM719 448h4v5h-4zM719 453h4v5h-4zM719 458h4v5h-4zM719 463h4v4h-4zM723 472h5v5h-5zM829 482h9v5h-9zM829 487h4v5h-4zM825 492h4v5h-4zM825 497h4v4h-4zM851 497h5v4h-5zM873 497h4v4h-4zM856 501h21v5h-21zM820 506h5v5h-5zM856 506h13v5h-13zM873 506h4v5h-4zM816 511h9v5h-9zM851 511h13v5h-13zM763 516h4v5h-4zM816 516h4v5h-4zM825 516h4v5h-4zM842 516h22v5h-22zM825 521h4v5h-4zM838 521h9v5h-9zM856 521h21v5h-21zM728 526h4v5h-4zM763 526h4v5h-4zM816 526h4v5h-4zM829 526h13v5h-13zM737 535h22v5h-22zM842 540h5v5h-5zM838 545h13v5h-13zM833 550h5v5h-5zM833 555h5v2h-5zM851 555h5v2h-5z"/>
<path fill="#20de06" d="M701 327h9v5h-9zM719 327h4v5h-4zM759 327h8v5h-8zM798 327h18v5h-18zM820 327h27v5h-27zM706 332h17v5h-17zM763 332h4v5h-4zM794 332h9v5h-9zM811 332h36v5h-36zM710 337h13v4h-13zM763 337h4v4h-4zM794 337h9v4h-9zM811 337h27v4h-27zM759 341h4v5h-4zM794 341h39v5h-39zM741 346h22v5h-22zM798 346h35v5h-35zM737 351h22v5h-22zM789 351h36v5h-36zM847 351h4v5h-4zM732 356h5v5h-5zM785 356h4v5h-4zM798 356h27v5h-27zM842 356h9v5h-9zM732 361h5v5h-5zM776 361h9v5h-9zM807 361h9v5h-9zM847 361h4v5h-4zM873 361h4v5h-4zM680 366h21v4h-21zM732 366h5v4h-5zM772 366h4v4h-4zM807 366h4v4h-4zM869 366h8v4h-8zM680 370h8v5h-8zM697 370h9v5h-9zM728 370h9v5h-9zM772 370h4v5h-4zM807 370h4v5h-4zM869 370h4v5h-4zM680 375h4v5h-4zM701 375h9v5h-9zM728 375h9v5h-9zM763 375h9v5h-9zM803 375h4v5h-4zM864 375h5v5h-5zM706 380h9v5h-9zM728 380h9v5h-9zM754 380h9v5h-9zM803 380h4v5h-4zM860 380h4v5h-4zM710 385h27v5h-27zM745 385h9v5h-9zM798 385h5v5h-5zM856 385h4v5h-4zM680 390h4v5h-4zM719 390h26v5h-26zM794 390h9v5h-9zM856 390h4v5h-4zM680 395h8v5h-8zM728 395h13v5h-13zM789 395h9v5h-9zM680 400h8v4h-8zM741 400h4v4h-4zM798 400h5v4h-5zM856 400h4v4h-4zM680 404h12v5h-12zM710 404h5v5h-5zM803 404h4v5h-4zM680 409h8v5h-8zM860 409h4v5h-4zM745 414h5v5h-5zM745 419h5v5h-5zM807 419h4v5h-4zM864 419h5v5h-5zM715 424h4v5h-4zM864 424h5v5h-5zM715 429h4v5h-4zM750 429h4v5h-4zM811 429h9v5h-9zM864 429h5v5h-5zM715 434h4v4h-4zM807 434h9v4h-9zM825 434h4v4h-4zM864 434h5v4h-5zM745 438h5v5h-5zM807 438h4v5h-4zM829 438h4v5h-4zM864 438h5v5h-5zM719 443h4v5h-4zM745 443h5v5h-5zM807 443h4v5h-4zM833 443h5v5h-5zM745 448h5v5h-5zM745 453h5v5h-5zM745 458h5v5h-5zM745 463h5v4h-5zM719 467h4v5h-4zM745 467h5v5h-5zM728 477h13v5h-13zM838 482h4v5h-4zM825 487h4v5h-4zM847 487h4v5h-4zM851 492h5v5h-5zM856 497h17v4h-17zM688 501h4v5h-4zM820 501h5v5h-5zM688 506h4v5h-4zM688 511h4v5h-4zM745 511h5v5h-5zM688 516h4v5h-4zM732 516h5v5h-5zM811 516h5v5h-5zM688 521h4v5h-4zM728 521h4v5h-4zM811 521h5v5h-5zM847 521h9v5h-9zM688 526h4v5h-4zM811 526h5v5h-5zM820 526h9v5h-9zM842 526h27v5h-27zM688 531h4v4h-4zM728 531h4v4h-4zM763 531h4v4h-4zM833 531h14v4h-14zM688 535h4v5h-4zM732 535h5v5h-5zM759 535h4v5h-4zM838 535h9v5h-9zM688 540h4v5h-4zM833 540h9v5h-9zM847 540h4v5h-4zM688 545h4v5h-4zM833 545h5v5h-5zM851 545h5v5h-5zM684 550h8v5h-8zM851 550h5v5h-5zM684 555h8v2h-8zM754 555h9v2h-9z"/>
<path fill="#41e800" d="M680 327h21v5h-21zM723 327h5v5h-5zM754 327h5v5h-5zM680 332h4v5h-4zM697 332h9v5h-9zM723 332h5v5h-5zM759 332h4v5h-4zM803 332h8v5h-8zM706 337h4v4h-4zM723 337h5v4h-5zM759 337h4v4h-4zM803 337h8v4h-8zM706 341h22v5h-22zM741 341h18v5h-18zM710 346h13v5h-13zM732 346h9v5h-9zM728 351h9v5h-9zM680 356h12v5h-12zM728 356h4v5h-4zM789 356h9v5h-9zM680 361h21v5h-21zM728 361h4v5h-4zM785 361h4v5h-4zM798 361h9v5h-9zM701 366h5v4h-5zM728 366h4v4h-4zM776 366h5v4h-5zM803 366h4v4h-4zM776 370h5v5h-5zM803 370h4v5h-4zM873 370h4v5h-4zM710 375h5v5h-5zM723 375h5v5h-5zM772 375h4v5h-4zM798 375h5v5h-5zM869 375h4v5h-4zM715 380h13v5h-13zM763 380h9v5h-9zM798 380h5v5h-5zM864 380h5v5h-5zM754 385h9v5h-9zM794 385h4v5h-4zM860 385h4v5h-4zM745 390h9v5h-9zM785 390h9v5h-9zM860 390h4v5h-4zM741 395h9v5h-9zM781 395h8v5h-8zM856 395h4v5h-4zM781 400h17v4h-17zM692 404h18v5h-18zM745 404h5v5h-5zM860 404h4v5h-4zM688 409h4v5h-4zM710 409h5v5h-5zM745 409h5v5h-5zM803 409h4v5h-4zM680 414h8v5h-8zM710 414h5v5h-5zM803 414h4v5h-4zM864 414h5v5h-5zM710 419h5v5h-5zM803 419h4v5h-4zM710 424h5v5h-5zM750 424h4v5h-4zM807 424h4v5h-4zM807 429h4v5h-4zM750 434h4v4h-4zM803 434h4v4h-4zM816 434h9v4h-9zM715 438h4v5h-4zM803 438h4v5h-4zM811 438h5v5h-5zM715 443h4v5h-4zM803 443h4v5h-4zM811 443h5v5h-5zM864 443h5v5h-5zM715 448h4v5h-4zM807 448h9v5h-9zM842 448h22v5h-22zM715 453h4v5h-4zM807 453h9v5h-9zM715 458h4v5h-4zM715 463h4v4h-4zM719 472h4v5h-4zM745 472h5v5h-5zM723 477h5v5h-5zM741 477h4v5h-4zM829 477h9v5h-9zM825 482h4v5h-4zM842 482h5v5h-5zM688 492h4v5h-4zM873 492h4v5h-4zM688 497h4v4h-4zM820 497h5v4h-5zM684 501h4v5h-4zM684 506h4v5h-4zM816 506h4v5h-4zM684 511h4v5h-4zM741 511h4v5h-4zM750 511h13v5h-13zM684 516h4v5h-4zM684 521h4v5h-4zM767 521h5v5h-5zM684 526h4v5h-4zM692 526h5v5h-5zM767 526h5v5h-5zM807 526h4v5h-4zM869 526h8v5h-8zM684 531h4v4h-4zM692 531h5v4h-5zM811 531h9v4h-9zM829 531h4v4h-4zM847 531h17v4h-17zM684 535h4v5h-4zM692 535h5v5h-5zM833 535h5v5h-5zM847 535h9v5h-9zM684 540h4v5h-4zM851 540h5v5h-5zM684 545h4v5h-4zM829 550h4v5h-4zM829 555h4v2h-4z"/>
<path fill="#6ced00" d="M728 327h4v5h-4zM741 327h13v5h-13zM684 332h13v5h-13zM728 332h4v5h-4zM745 332h14v5h-14zM680 337h8v4h-8zM701 337h5v4h-5zM728 337h4v4h-4zM741 337h18v4h-18zM680 341h4v5h-4zM701 341h5v5h-5zM728 341h13v5h-13zM680 346h4v5h-4zM701 346h9v5h-9zM723 346h9v5h-9zM680 351h48v5h-48zM692 356h14v5h-14zM723 356h5v5h-5zM701 361h5v5h-5zM723 361h5v5h-5zM789 361h9v5h-9zM723 366h5v4h-5zM781 366h4v4h-4zM794 366h9v4h-9zM706 370h4v5h-4zM723 370h5v5h-5zM798 370h5v5h-5zM715 375h8v5h-8zM776 375h5v5h-5zM794 375h4v5h-4zM873 375h4v5h-4zM772 380h13v5h-13zM789 380h9v5h-9zM869 380h4v5h-4zM763 385h31v5h-31zM864 385h5v5h-5zM754 390h5v5h-5zM772 390h13v5h-13zM864 390h5v5h-5zM750 395h4v5h-4zM772 395h9v5h-9zM860 395h4v5h-4zM745 400h5v4h-5zM776 400h5v4h-5zM860 400h4v4h-4zM776 404h9v5h-9zM798 404h5v5h-5zM692 409h5v5h-5zM706 409h4v5h-4zM680 419h8v5h-8zM750 419h4v5h-4zM803 424h4v5h-4zM869 424h4v5h-4zM710 429h5v5h-5zM803 429h4v5h-4zM869 429h4v5h-4zM710 434h5v4h-5zM869 434h4v4h-4zM710 438h5v5h-5zM750 438h4v5h-4zM816 438h13v5h-13zM869 438h4v5h-4zM816 443h4v5h-4zM829 443h4v5h-4zM803 448h4v5h-4zM838 448h4v5h-4zM864 448h5v5h-5zM803 453h4v5h-4zM807 458h9v5h-9zM715 467h4v5h-4zM688 477h4v5h-4zM719 477h4v5h-4zM825 477h4v5h-4zM684 482h13v5h-13zM684 487h13v5h-13zM851 487h5v5h-5zM684 492h4v5h-4zM692 492h5v5h-5zM820 492h5v5h-5zM856 492h17v5h-17zM684 497h4v4h-4zM692 497h5v4h-5zM692 501h5v5h-5zM692 506h5v5h-5zM692 511h5v5h-5zM737 511h4v5h-4zM763 511h4v5h-4zM811 511h5v5h-5zM692 516h5v5h-5zM692 521h5v5h-5zM807 521h4v5h-4zM723 526h5v5h-5zM723 531h5v4h-5zM807 531h4v4h-4zM820 531h9v4h-9zM728 535h4v5h-4zM763 535h4v5h-4zM811 535h5v5h-5zM829 535h4v5h-4zM856 535h4v5h-4zM692 540h5v5h-5zM737 540h17v5h-17zM829 540h4v5h-4zM856 540h4v5h-4zM692 545h5v5h-5zM829 545h4v5h-4zM856 545h4v5h-4zM692 550h5v5h-5zM856 550h4v5h-4zM692 555h5v2h-5zM750 555h4v2h-4zM856 555h4v2h-4z"/>
<path fill="#96f200" d="M732 327h9v5h-9zM732 332h13v5h-13zM688 337h13v4h-13zM732 337h9v4h-9zM684 341h17v5h-17zM684 346h17v5h-17zM706 356h17v5h-17zM706 361h4v5h-4zM719 361h4v5h-4zM706 366h4v4h-4zM719 366h4v4h-4zM785 366h9v4h-9zM710 370h13v5h-13zM781 370h17v5h-17zM781 375h13v5h-13zM785 380h4v5h-4zM873 380h4v5h-4zM869 385h8v5h-8zM759 390h13v5h-13zM869 390h4v5h-4zM754 395h5v5h-5zM767 395h5v5h-5zM864 395h5v5h-5zM750 400h4v4h-4zM772 400h4v4h-4zM864 400h5v4h-5zM750 404h4v5h-4zM772 404h4v5h-4zM785 404h13v5h-13zM864 404h5v5h-5zM697 409h9v5h-9zM750 409h4v5h-4zM776 409h9v5h-9zM798 409h5v5h-5zM864 409h5v5h-5zM688 414h4v5h-4zM706 414h4v5h-4zM750 414h4v5h-4zM798 414h5v5h-5zM706 419h4v5h-4zM798 419h5v5h-5zM869 419h4v5h-4zM680 424h8v5h-8zM706 424h4v5h-4zM754 424h5v5h-5zM798 424h5v5h-5zM680 429h4v5h-4zM754 429h5v5h-5zM798 429h5v5h-5zM798 434h5v4h-5zM798 438h5v5h-5zM710 443h5v5h-5zM750 443h4v5h-4zM798 443h5v5h-5zM869 443h4v5h-4zM710 448h5v5h-5zM798 448h5v5h-5zM816 448h4v5h-4zM833 448h5v5h-5zM710 453h5v5h-5zM816 453h4v5h-4zM710 458h5v5h-5zM803 458h4v5h-4zM816 458h4v5h-4zM710 463h5v4h-5zM807 463h13v4h-13zM688 467h4v5h-4zM710 467h5v5h-5zM807 467h13v5h-13zM688 472h4v5h-4zM715 472h4v5h-4zM811 472h9v5h-9zM825 472h8v5h-8zM684 477h4v5h-4zM692 477h5v5h-5zM745 477h5v5h-5zM820 477h5v5h-5zM680 482h4v5h-4zM697 482h4v5h-4zM723 482h9v5h-9zM820 482h5v5h-5zM847 482h4v5h-4zM680 487h4v5h-4zM697 487h4v5h-4zM820 487h5v5h-5zM873 487h4v5h-4zM680 492h4v5h-4zM697 492h4v5h-4zM680 497h4v4h-4zM697 497h4v4h-4zM680 501h4v5h-4zM816 501h4v5h-4zM680 506h4v5h-4zM811 506h5v5h-5zM680 511h4v5h-4zM732 511h5v5h-5zM680 516h4v5h-4zM728 516h4v5h-4zM767 516h5v5h-5zM807 516h4v5h-4zM680 521h4v5h-4zM723 521h5v5h-5zM680 526h4v5h-4zM697 526h4v5h-4zM680 531h4v4h-4zM697 531h4v4h-4zM767 531h5v4h-5zM864 531h5v4h-5zM680 535h4v5h-4zM697 535h4v5h-4zM807 535h4v5h-4zM816 535h4v5h-4zM860 535h4v5h-4zM680 540h4v5h-4zM732 540h5v5h-5zM754 540h5v5h-5zM680 545h4v5h-4zM680 550h4v5h-4zM754 550h5v5h-5zM680 555h4v2h-4zM763 555h4v2h-4z"/>
<path fill="#b2f700" d="M710 361h9v5h-9zM710 366h9v4h-9zM873 390h4v5h-4zM759 395h8v5h-8zM869 395h8v5h-8zM754 400h5v4h-5zM767 400h5v4h-5zM772 409h4v5h-4zM785 409h4v5h-4zM794 409h4v5h-4zM692 414h5v5h-5zM701 414h5v5h-5zM869 414h4v5h-4zM688 419h4v5h-4zM701 419h5v5h-5zM754 419h5v5h-5zM688 424h4v5h-4zM873 424h4v5h-4zM684 429h8v5h-8zM706 429h4v5h-4zM873 429h4v5h-4zM680 434h12v4h-12zM706 434h4v4h-4zM754 434h5v4h-5zM794 434h4v4h-4zM873 434h4v4h-4zM680 438h8v5h-8zM706 438h4v5h-4zM794 438h4v5h-4zM873 438h4v5h-4zM706 443h4v5h-4zM820 443h9v5h-9zM873 443h4v5h-4zM706 448h4v5h-4zM750 448h4v5h-4zM869 448h4v5h-4zM706 453h4v5h-4zM750 453h4v5h-4zM798 453h5v5h-5zM851 453h18v5h-18zM706 458h4v5h-4zM750 458h4v5h-4zM798 458h5v5h-5zM684 463h13v4h-13zM706 463h4v4h-4zM750 463h4v4h-4zM798 463h9v4h-9zM684 467h4v5h-4zM692 467h5v5h-5zM706 467h4v5h-4zM750 467h4v5h-4zM803 467h4v5h-4zM684 472h4v5h-4zM692 472h5v5h-5zM710 472h5v5h-5zM750 472h4v5h-4zM807 472h4v5h-4zM820 472h5v5h-5zM833 472h5v5h-5zM680 477h4v5h-4zM697 477h4v5h-4zM710 477h9v5h-9zM816 477h4v5h-4zM838 477h4v5h-4zM701 482h5v5h-5zM719 482h4v5h-4zM732 482h5v5h-5zM701 487h5v5h-5zM781 487h4v5h-4zM856 487h4v5h-4zM869 487h4v5h-4zM701 492h5v5h-5zM697 501h4v5h-4zM697 506h4v5h-4zM697 511h4v5h-4zM697 516h4v5h-4zM697 521h4v5h-4zM772 521h4v5h-4zM772 526h4v5h-4zM803 526h4v5h-4zM803 531h4v4h-4zM869 531h4v4h-4zM723 535h5v5h-5zM803 535h4v5h-4zM820 535h9v5h-9zM697 540h4v5h-4zM728 540h4v5h-4zM759 540h4v5h-4zM807 540h13v5h-13zM825 540h4v5h-4zM750 550h4v5h-4zM759 550h4v5h-4zM825 550h4v5h-4zM811 555h9v2h-9zM825 555h4v2h-4zM860 555h4v2h-4z"/>
<path fill="#cdfc00" d="M759 400h8v4h-8zM869 400h8v4h-8zM754 404h5v5h-5zM767 404h5v5h-5zM869 404h4v5h-4zM754 409h5v5h-5zM789 409h5v5h-5zM869 409h4v5h-4zM697 414h4v5h-4zM754 414h5v5h-5zM772 414h26v5h-26zM873 414h4v5h-4zM692 419h9v5h-9zM794 419h4v5h-4zM873 419h4v5h-4zM692 424h14v5h-14zM794 424h4v5h-4zM692 429h5v5h-5zM701 429h5v5h-5zM794 429h4v5h-4zM692 434h14v4h-14zM789 434h5v4h-5zM688 438h18v5h-18zM754 438h5v5h-5zM789 438h5v5h-5zM680 443h17v5h-17zM701 443h5v5h-5zM789 443h9v5h-9zM680 448h12v5h-12zM701 448h5v5h-5zM789 448h9v5h-9zM820 448h5v5h-5zM829 448h4v5h-4zM873 448h4v5h-4zM680 453h12v5h-12zM701 453h5v5h-5zM794 453h4v5h-4zM820 453h5v5h-5zM833 453h18v5h-18zM869 453h8v5h-8zM680 458h26v5h-26zM794 458h4v5h-4zM869 458h8v5h-8zM680 463h4v4h-4zM697 463h9v4h-9zM794 463h4v4h-4zM820 463h5v4h-5zM873 463h4v4h-4zM680 467h4v5h-4zM697 467h9v5h-9zM794 467h9v5h-9zM820 467h9v5h-9zM873 467h4v5h-4zM680 472h4v5h-4zM697 472h13v5h-13zM798 472h9v5h-9zM873 472h4v5h-4zM701 477h9v5h-9zM750 477h4v5h-4zM811 477h5v5h-5zM873 477h4v5h-4zM706 482h13v5h-13zM737 482h4v5h-4zM781 482h8v5h-8zM851 482h5v5h-5zM869 482h8v5h-8zM706 487h4v5h-4zM719 487h9v5h-9zM776 487h5v5h-5zM785 487h4v5h-4zM860 487h9v5h-9zM781 492h4v5h-4zM701 497h5v4h-5zM816 497h4v4h-4zM811 501h5v5h-5zM741 506h4v5h-4zM728 511h4v5h-4zM767 511h5v5h-5zM807 511h4v5h-4zM723 516h5v5h-5zM701 521h5v5h-5zM719 521h4v5h-4zM803 521h4v5h-4zM701 526h5v5h-5zM719 526h4v5h-4zM701 531h5v4h-5zM719 531h4v4h-4zM772 531h4v4h-4zM873 531h4v4h-4zM701 535h5v5h-5zM767 535h5v5h-5zM798 535h5v5h-5zM864 535h5v5h-5zM723 540h5v5h-5zM763 540h4v5h-4zM803 540h4v5h-4zM820 540h5v5h-5zM860 540h4v5h-4zM697 545h4v5h-4zM737 545h4v5h-4zM745 545h14v5h-14zM807 545h13v5h-13zM825 545h4v5h-4zM860 545h4v5h-4zM763 550h4v5h-4zM807 550h13v5h-13zM860 550h4v5h-4zM803 555h8v2h-8zM820 555h5v2h-5z"/>
<path fill="#def900" d="M759 404h8v5h-8zM873 404h4v5h-4zM759 409h13v5h-13zM873 409h4v5h-4zM759 414h4v5h-4zM767 414h5v5h-5zM759 419h4v5h-4zM772 419h22v5h-22zM759 424h4v5h-4zM776 424h18v5h-18zM697 429h4v5h-4zM759 429h4v5h-4zM781 429h13v5h-13zM759 434h4v4h-4zM781 434h8v4h-8zM781 438h8v5h-8zM697 443h4v5h-4zM754 443h5v5h-5zM781 443h8v5h-8zM692 448h9v5h-9zM785 448h4v5h-4zM825 448h4v5h-4zM692 453h9v5h-9zM785 453h9v5h-9zM829 453h4v5h-4zM789 458h5v5h-5zM820 458h5v5h-5zM856 458h13v5h-13zM789 463h5v4h-5zM864 463h9v4h-9zM789 467h5v5h-5zM829 467h9v5h-9zM864 467h9v5h-9zM789 472h9v5h-9zM864 472h9v5h-9zM785 477h26v5h-26zM842 477h5v5h-5zM864 477h9v5h-9zM741 482h4v5h-4zM776 482h5v5h-5zM789 482h5v5h-5zM816 482h4v5h-4zM856 482h4v5h-4zM864 482h5v5h-5zM710 487h9v5h-9zM728 487h9v5h-9zM706 492h22v5h-22zM776 492h5v5h-5zM785 492h4v5h-4zM816 492h4v5h-4zM706 497h4v4h-4zM715 497h8v4h-8zM701 501h9v5h-9zM701 506h5v5h-5zM732 506h9v5h-9zM745 506h27v5h-27zM807 506h4v5h-4zM701 511h5v5h-5zM715 511h13v5h-13zM701 516h9v5h-9zM715 516h8v5h-8zM772 516h4v5h-4zM803 516h4v5h-4zM706 521h13v5h-13zM706 526h13v5h-13zM798 526h5v5h-5zM706 531h4v4h-4zM798 531h5v4h-5zM719 535h4v5h-4zM794 535h4v5h-4zM701 540h5v5h-5zM719 540h4v5h-4zM794 540h9v5h-9zM728 545h9v5h-9zM741 545h4v5h-4zM759 545h4v5h-4zM798 545h9v5h-9zM820 545h5v5h-5zM697 550h4v5h-4zM798 550h9v5h-9zM820 550h5v5h-5zM697 555h4v2h-4zM798 555h5v2h-5z"/>
<path fill="#f0f600" d="M763 414h4v5h-4zM763 419h9v5h-9zM763 424h13v5h-13zM772 429h9v5h-9zM772 434h9v4h-9zM759 438h4v5h-4zM772 438h9v5h-9zM759 443h4v5h-4zM776 443h5v5h-5zM754 448h5v5h-5zM776 448h9v5h-9zM754 453h5v5h-5zM781 453h4v5h-4zM825 453h4v5h-4zM785 458h4v5h-4zM825 458h31v5h-31zM785 463h4v4h-4zM825 463h8v4h-8zM860 463h4v4h-4zM785 467h4v5h-4zM860 467h4v5h-4zM754 472h5v5h-5zM785 472h4v5h-4zM838 472h4v5h-4zM860 472h4v5h-4zM781 477h4v5h-4zM847 477h4v5h-4zM860 477h4v5h-4zM745 482h9v5h-9zM794 482h4v5h-4zM860 482h4v5h-4zM737 487h4v5h-4zM772 487h4v5h-4zM789 487h5v5h-5zM816 487h4v5h-4zM728 492h9v5h-9zM772 492h4v5h-4zM789 492h5v5h-5zM710 497h5v4h-5zM723 497h9v4h-9zM776 497h13v4h-13zM710 501h18v5h-18zM772 501h9v5h-9zM706 506h26v5h-26zM772 506h4v5h-4zM706 511h9v5h-9zM772 511h4v5h-4zM803 511h4v5h-4zM710 516h5v5h-5zM776 521h5v5h-5zM798 521h5v5h-5zM776 526h5v5h-5zM794 526h4v5h-4zM710 531h9v4h-9zM776 531h22v4h-22zM706 535h13v5h-13zM772 535h9v5h-9zM785 535h9v5h-9zM715 540h4v5h-4zM767 540h5v5h-5zM789 540h5v5h-5zM864 540h5v5h-5zM719 545h9v5h-9zM763 545h4v5h-4zM794 545h4v5h-4zM723 550h14v5h-14zM745 550h5v5h-5zM767 550h5v5h-5zM794 550h4v5h-4zM723 555h9v2h-9zM745 555h5v2h-5zM767 555h5v2h-5zM794 555h4v2h-4zM864 555h5v2h-5z"/>
<path fill="#f8e600" d="M763 429h9v5h-9zM763 434h9v4h-9zM763 438h9v5h-9zM763 443h13v5h-13zM759 448h17v5h-17zM776 453h5v5h-5zM754 458h5v5h-5zM781 458h4v5h-4zM754 463h5v4h-5zM781 463h4v4h-4zM833 463h27v4h-27zM754 467h5v5h-5zM781 467h4v5h-4zM838 467h4v5h-4zM856 467h4v5h-4zM781 472h4v5h-4zM856 472h4v5h-4zM754 477h5v5h-5zM776 477h5v5h-5zM851 477h9v5h-9zM754 482h5v5h-5zM772 482h4v5h-4zM798 482h9v5h-9zM811 482h5v5h-5zM794 487h4v5h-4zM737 492h4v5h-4zM794 492h4v5h-4zM732 497h9v4h-9zM772 497h4v4h-4zM789 497h5v4h-5zM811 497h5v4h-5zM728 501h17v5h-17zM767 501h5v5h-5zM781 501h8v5h-8zM807 501h4v5h-4zM776 506h9v5h-9zM803 506h4v5h-4zM776 511h5v5h-5zM798 511h5v5h-5zM776 516h5v5h-5zM794 516h9v5h-9zM781 521h4v5h-4zM794 521h4v5h-4zM781 526h13v5h-13zM781 535h4v5h-4zM869 535h4v5h-4zM706 540h9v5h-9zM772 540h4v5h-4zM785 540h4v5h-4zM701 545h5v5h-5zM715 545h4v5h-4zM767 545h5v5h-5zM789 545h5v5h-5zM864 545h5v5h-5zM719 550h4v5h-4zM737 550h8v5h-8zM864 550h5v5h-5zM719 555h4v2h-4zM732 555h5v2h-5z"/>
<path fill="#ffd600" d="M759 453h8v5h-8zM772 453h4v5h-4zM759 458h4v5h-4zM776 458h5v5h-5zM776 463h5v4h-5zM842 467h14v5h-14zM759 472h4v5h-4zM776 472h5v5h-5zM842 472h5v5h-5zM851 472h5v5h-5zM759 477h4v5h-4zM772 477h4v5h-4zM759 482h4v5h-4zM767 482h5v5h-5zM807 482h4v5h-4zM741 487h31v5h-31zM798 487h5v5h-5zM811 487h5v5h-5zM741 492h9v5h-9zM759 492h13v5h-13zM798 492h5v5h-5zM811 492h5v5h-5zM741 497h9v4h-9zM763 497h9v4h-9zM794 497h17v4h-17zM745 501h9v5h-9zM759 501h8v5h-8zM789 501h18v5h-18zM785 506h18v5h-18zM781 511h17v5h-17zM781 516h13v5h-13zM785 521h9v5h-9zM873 535h4v5h-4zM776 540h9v5h-9zM869 540h4v5h-4zM706 545h9v5h-9zM772 545h4v5h-4zM701 550h5v5h-5zM715 550h4v5h-4zM789 550h5v5h-5zM715 555h4v2h-4zM737 555h8v2h-8zM789 555h5v2h-5zM869 555h4v2h-4z"/>
<path fill="#ffbf00" d="M767 453h5v5h-5zM763 458h13v5h-13zM759 463h4v4h-4zM772 463h4v4h-4zM759 467h4v5h-4zM776 467h5v5h-5zM847 472h4v5h-4zM763 477h9v5h-9zM763 482h4v5h-4zM803 487h8v5h-8zM750 492h9v5h-9zM803 492h8v5h-8zM750 497h13v4h-13zM754 501h5v5h-5zM785 545h4v5h-4zM869 545h4v5h-4zM706 550h9v5h-9zM772 550h4v5h-4zM869 550h4v5h-4zM701 555h5v2h-5zM772 555h4v2h-4zM873 555h4v2h-4z"/>
<path fill="#ffa800" d="M763 463h9v4h-9zM763 467h13v5h-13zM763 472h13v5h-13zM873 540h4v5h-4zM776 545h9v5h-9zM873 545h4v5h-4zM785 550h4v5h-4zM873 550h4v5h-4zM706 555h9v2h-9z"/>
<path fill="#ff9500" d="M776 550h9v5h-9zM776 555h5v2h-5zM785 555h4v2h-4z"/>
<path fill="#ff8200" d="M781 555h4v2h-4z"/>
</g>
<g shape-rendering="crispEdges" stroke-linejoin="round" stroke-linecap="butt">
<path d="M679.5 171.5 L685.5 171.5 L687.0 169.0 L688.5 165.0 L690.0 160.5 L692.0 166.5 L690.5 171.5 L689.0 177.0 L688.0 182.0 L688.3 186.0 L687.3 191.0 L687.8 196.5 L686.8 201.5 L686.4 205.0 L687.7 209.8 L690.1 214.7 L692.5 218.3 L693.7 223.1 L694.9 227.9 L696.1 232.8 L695.9 236.4 L694.9 241.2 L693.1 246.0 L691.9 250.9 L691.3 255.7 L690.1 261.7 L688.3 267.8 L687.1 273.0 L679.5 273.0Z" fill="#ffcc99" stroke="none"/>
<path d="M692.8 206.5 L694.5 206.0 L695.0 210.0 L694.6 215.5 L693.3 215.5 L693.0 210.0Z" fill="#ffcc99" stroke="#000" stroke-width="1"/>
<path d="M679.5 171.5 L685.5 171.5 L687.0 169.0 L688.5 165.0 L690.0 160.5 L692.0 166.5 L690.5 171.5 L689.0 177.0 L688.0 182.0 L688.3 186.0 L687.3 191.0 L687.8 196.5 L686.8 201.5 L686.4 205.0 L687.7 209.8 L690.1 214.7 L692.5 218.3 L693.7 223.1 L694.9 227.9 L696.1 232.8 L695.9 236.4 L694.9 241.2 L693.1 246.0 L691.9 250.9 L691.3 255.7 L690.1 261.7 L688.3 267.8 L687.1 273.0" fill="none" stroke="#000" stroke-width="1.1"/>
<path d="M684.5 172.5 L683.5 175.0 L685.0 176.0 L683.2 178.0 L685.5 179.5 L684.0 181.5 L686.0 183.0 L685.0 185.5 L687.0 186.5" fill="none" stroke="#000" stroke-width="1.6"/>
<path d="M686.5 203.0 L687.8 205.5 L686.3 207.0 L688.3 208.5 L687.2 210.0 L689.6 211.3 L690.3 213.0" fill="none" stroke="#000" stroke-width="1.5"/>
<path d="M679.5 146.5 L687.0 152.3 L692.4 157.6 L695.8 164.4 L698.5 172.4 L699.8 180.5 L700.5 189.1 L700.2 193.8 L697.1 196.4 L696.6 200.5 L698.2 204.6 L699.1 211.0 L700.3 218.3 L700.9 225.5 L701.2 232.8 L700.7 240.0 L699.7 247.2 L698.5 255.7 L696.1 262.9 L694.3 269.0 L693.1 273.0" fill="none" stroke="#000" stroke-width="1"/>
<path d="M679.5 89.5 L683.6 91.5 L685.0 98.8 L688.3 108.1 L691.0 114.7 L690.6 120.0 L687.0 123.4 L679.5 126.2" fill="none" stroke="#000" stroke-width="1"/>
<path d="M692.3 101.4 L700.9 101.4 L695.6 109.4 L692.3 104.1Z" fill="none" stroke="#000" stroke-width="1"/>
<path d="M733.0 92.0 L734.5 90.5 L736.0 92.0 L735.5 94.5 L733.5 95.0 L733.0 92.0" fill="none" stroke="#000" stroke-width="1"/>
<path d="M729.5 132.0 L731.0 130.3 L732.8 132.0 L731.2 134.0 L729.5 132.0" fill="none" stroke="#000" stroke-width="1"/>
<path d="M785.2 45.0 L789.2 45.4 L792.5 51.6 L793.2 56.3 L792.2 62.9 L792.8 69.6 L793.8 76.2 L796.5 84.2 L799.8 90.8 L802.5 96.1 L803.1 102.8 L801.8 107.4 L798.5 107.4 L796.5 102.8 L793.2 98.1 L789.2 98.8 L785.2 97.4 L783.9 92.1 L781.2 85.5 L779.9 78.9 L779.9 72.2 L778.6 68.2 L776.6 64.2 L776.6 58.9 L778.6 54.3 L781.2 49.0Z" fill="none" stroke="#000" stroke-width="1"/>
<path d="M782.0 62.5 L783.0 59.0 L785.3 56.5 L786.0 58.0 L784.5 61.5 L782.8 63.6Z" fill="none" stroke="#000" stroke-width="1"/>
<path d="M813.5 70.2 L817.0 70.5 L820.0 71.5 L825.3 71.6 L829.3 77.5 L833.3 77.3 L833.7 82.2 L830.0 85.5 L826.6 88.8 L824.6 85.5 L822.7 80.2 L820.0 75.0 L816.4 72.5Z" fill="none" stroke="#000" stroke-width="1"/>
<path d="M820.5 88.5 L822.8 88.5 L822.0 94.0 L820.5 98.5 L819.3 97.0 L820.0 92.0Z" fill="none" stroke="#000" stroke-width="1"/>
<path d="M843.9 92.1 L847.2 87.8 L849.9 88.2 L851.9 92.8 L849.9 96.1 L847.2 95.5Z" fill="none" stroke="#000" stroke-width="1"/>
<path d="M858.5 42.5 L861.2 48.3 L863.8 54.3 L867.1 58.9 L871.1 62.9 L872.5 61.5 L873.8 65.6" fill="none" stroke="#000" stroke-width="1"/>
<path d="M868.5 42.5 L870.5 45.7 L872.5 47.6 L872.9 49.6" fill="none" stroke="#000" stroke-width="1"/>
<path d="M794.3 118.5 L796.0 115.6 L796.6 118.0 L795.3 120.8 L794.3 118.5" fill="none" stroke="#000" stroke-width="1"/>
<path d="M807.6 56.8 L808.2 52.5 L809.0 52.3 L808.6 56.5Z" fill="#000" stroke="#000" stroke-width="0.8"/>
<path d="M832.6 87.5L834.3 88.8M838.8 89L839.8 90M791.7 253.8l1 -2.2l0.8 1.6l-0.9 1zM791 263.2h2M785.3 53.5h0.6M790.8 55.3h1.2M778.6 67.6l0.8 0.6M781.6 69.5h0.6M872.2 62.5l1.3 1.8" fill="none" stroke="#000" stroke-width="1"/>
<circle cx="778.5" cy="157.4" r="5.2" fill="none" stroke="#000" stroke-width="1"/>
</g>
<g shape-rendering="crispEdges" stroke-linejoin="round" stroke-linecap="butt">
<path d="M679.5 455.5 L685.5 455.5 L687.0 453.0 L688.5 449.0 L690.0 444.5 L692.0 450.5 L690.5 455.5 L689.0 461.0 L688.0 466.0 L688.3 470.0 L687.3 475.0 L687.8 480.5 L686.8 485.5 L686.4 489.0 L687.7 493.8 L690.1 498.7 L692.5 502.3 L693.7 507.1 L694.9 511.9 L696.1 516.8 L695.9 520.4 L694.9 525.2 L693.1 530.0 L691.9 534.9 L691.3 539.7 L690.1 545.7 L688.3 551.8 L687.1 557.0 L679.5 557.0Z" fill="#ffcc99" stroke="none"/>
<path d="M692.8 490.5 L694.5 490.0 L695.0 494.0 L694.6 499.5 L693.3 499.5 L693.0 494.0Z" fill="#ffcc99" stroke="#000" stroke-width="1"/>
<path d="M679.5 455.5 L685.5 455.5 L687.0 453.0 L688.5 449.0 L690.0 444.5 L692.0 450.5 L690.5 455.5 L689.0 461.0 L688.0 466.0 L688.3 470.0 L687.3 475.0 L687.8 480.5 L686.8 485.5 L686.4 489.0 L687.7 493.8 L690.1 498.7 L692.5 502.3 L693.7 507.1 L694.9 511.9 L696.1 516.8 L695.9 520.4 L694.9 525.2 L693.1 530.0 L691.9 534.9 L691.3 539.7 L690.1 545.7 L688.3 551.8 L687.1 557.0" fill="none" stroke="#000" stroke-width="1.1"/>
<path d="M684.5 456.5 L683.5 459.0 L685.0 460.0 L683.2 462.0 L685.5 463.5 L684.0 465.5 L686.0 467.0 L685.0 469.5 L687.0 470.5" fill="none" stroke="#000" stroke-width="1.6"/>
<path d="M686.5 487.0 L687.8 489.5 L686.3 491.0 L688.3 492.5 L687.2 494.0 L689.6 495.3 L690.3 497.0" fill="none" stroke="#000" stroke-width="1.5"/>
<path d="M679.5 430.5 L687.0 436.3 L692.4 441.6 L695.8 448.4 L698.5 456.4 L699.8 464.5 L700.5 473.1 L700.2 477.8 L697.1 480.4 L696.6 484.5 L698.2 488.6 L699.1 495.0 L700.3 502.3 L700.9 509.5 L701.2 516.8 L700.7 524.0 L699.7 531.2 L698.5 539.7 L696.1 546.9 L694.3 553.0 L693.1 557.0" fill="none" stroke="#000" stroke-width="1"/>
<path d="M679.5 373.5 L683.6 375.5 L685.0 382.8 L688.3 392.1 L691.0 398.7 L690.6 404.0 L687.0 407.4 L679.5 410.2" fill="none" stroke="#000" stroke-width="1"/>
<path d="M692.3 385.4 L700.9 385.4 L695.6 393.4 L692.3 388.1Z" fill="none" stroke="#000" stroke-width="1"/>
<path d="M733.0 376.0 L734.5 374.5 L736.0 376.0 L735.5 378.5 L733.5 379.0 L733.0 376.0" fill="none" stroke="#000" stroke-width="1"/>
<path d="M729.5 416.0 L731.0 414.3 L732.8 416.0 L731.2 418.0 L729.5 416.0" fill="none" stroke="#000" stroke-width="1"/>
<path d="M785.2 329.0 L789.2 329.4 L792.5 335.6 L793.2 340.3 L792.2 346.9 L792.8 353.6 L793.8 360.2 L796.5 368.2 L799.8 374.8 L802.5 380.1 L803.1 386.8 L801.8 391.4 L798.5 391.4 L796.5 386.8 L793.2 382.1 L789.2 382.8 L785.2 381.4 L783.9 376.1 L781.2 369.5 L779.9 362.9 L779.9 356.2 L778.6 352.2 L776.6 348.2 L776.6 342.9 L778.6 338.3 L781.2 333.0Z" fill="none" stroke="#000" stroke-width="1"/>
<path d="M782.0 346.5 L783.0 343.0 L785.3 340.5 L786.0 342.0 L784.5 345.5 L782.8 347.6Z" fill="none" stroke="#000" stroke-width="1"/>
<path d="M813.5 354.2 L817.0 354.5 L820.0 355.5 L825.3 355.6 L829.3 361.5 L833.3 361.3 L833.7 366.2 L830.0 369.5 L826.6 372.8 L824.6 369.5 L822.7 364.2 L820.0 359.0 L816.4 356.5Z" fill="none" stroke="#000" stroke-width="1"/>
<path d="M820.5 372.5 L822.8 372.5 L822.0 378.0 L820.5 382.5 L819.3 381.0 L820.0 376.0Z" fill="none" stroke="#000" stroke-width="1"/>
<path d="M843.9 376.1 L847.2 371.8 L849.9 372.2 L851.9 376.8 L849.9 380.1 L847.2 379.5Z" fill="none" stroke="#000" stroke-width="1"/>
<path d="M858.5 326.5 L861.2 332.3 L863.8 338.3 L867.1 342.9 L871.1 346.9 L872.5 345.5 L873.8 349.6" fill="none" stroke="#000" stroke-width="1"/>
<path d="M868.5 326.5 L870.5 329.7 L872.5 331.6 L872.9 333.6" fill="none" stroke="#000" stroke-width="1"/>
<path d="M794.3 402.5 L796.0 399.6 L796.6 402.0 L795.3 404.8 L794.3 402.5" fill="none" stroke="#000" stroke-width="1"/>
<path d="M807.6 340.8 L808.2 336.5 L809.0 336.3 L808.6 340.5Z" fill="#000" stroke="#000" stroke-width="0.8"/>
<path d="M832.6 371.5L834.3 372.8M838.8 373L839.8 374M791.7 537.8l1 -2.2l0.8 1.6l-0.9 1zM791 547.2h2M785.3 337.5h0.6M790.8 339.3h1.2M778.6 351.6l0.8 0.6M781.6 353.5h0.6M872.2 346.5l1.3 1.8" fill="none" stroke="#000" stroke-width="1"/>
<circle cx="778.5" cy="441.4" r="5.2" fill="#96f000" stroke="#000" stroke-width="1"/>
</g>
<rect x="679.5" y="41.5" width="198.0" height="232.0" fill="none" stroke="#000" stroke-width="1"/>
<path d="M679.5 69.5h-3M877.5 69.5h3" stroke="#000" stroke-width="1"/>
<text x="672.5" y="73.1" text-anchor="end">-20</text>
<path d="M679.5 108.5h-3M877.5 108.5h3" stroke="#000" stroke-width="1"/>
<text x="672.5" y="112.1" text-anchor="end">-22</text>
<path d="M679.5 147.5h-3M877.5 147.5h3" stroke="#000" stroke-width="1"/>
<text x="672.5" y="151.1" text-anchor="end">-24</text>
<path d="M679.5 185.5h-3M877.5 185.5h3" stroke="#000" stroke-width="1"/>
<text x="672.5" y="189.1" text-anchor="end">-26</text>
<path d="M679.5 224.5h-3M877.5 224.5h3" stroke="#000" stroke-width="1"/>
<text x="672.5" y="228.1" text-anchor="end">-28</text>
<path d="M679.5 263.5h-3M877.5 263.5h3" stroke="#000" stroke-width="1"/>
<text x="672.5" y="267.1" text-anchor="end">-30</text>
<path d="M703.5 41.5v-3.5M703.5 273.5v3.5" stroke="#000" stroke-width="1"/>
<text x="703.5" y="289.5" text-anchor="middle">154</text>
<path d="M738.5 41.5v-3.5M738.5 273.5v3.5" stroke="#000" stroke-width="1"/>
<text x="738.5" y="289.5" text-anchor="middle">156</text>
<path d="M773.5 41.5v-3.5M773.5 273.5v3.5" stroke="#000" stroke-width="1"/>
<text x="773.5" y="289.5" text-anchor="middle">158</text>
<path d="M809.5 41.5v-3.5M809.5 273.5v3.5" stroke="#000" stroke-width="1"/>
<text x="809.5" y="289.5" text-anchor="middle">160</text>
<path d="M844.5 41.5v-3.5M844.5 273.5v3.5" stroke="#000" stroke-width="1"/>
<text x="844.5" y="289.5" text-anchor="middle">162</text>
<text x="692.9" y="31.3" textLength="167.5" lengthAdjust="spacing">AMSR-E SST: 25.2 Argo: 25.5</text>
<rect x="679.5" y="325.5" width="198.0" height="232.0" fill="none" stroke="#000" stroke-width="1"/>
<path d="M679.5 353.5h-3M877.5 353.5h3" stroke="#000" stroke-width="1"/>
<text x="672.5" y="357.1" text-anchor="end">-20</text>
<path d="M679.5 392.5h-3M877.5 392.5h3" stroke="#000" stroke-width="1"/>
<text x="672.5" y="396.1" text-anchor="end">-22</text>
<path d="M679.5 431.5h-3M877.5 431.5h3" stroke="#000" stroke-width="1"/>
<text x="672.5" y="435.1" text-anchor="end">-24</text>
<path d="M679.5 469.5h-3M877.5 469.5h3" stroke="#000" stroke-width="1"/>
<text x="672.5" y="473.1" text-anchor="end">-26</text>
<path d="M679.5 508.5h-3M877.5 508.5h3" stroke="#000" stroke-width="1"/>
<text x="672.5" y="512.1" text-anchor="end">-28</text>
<path d="M679.5 547.5h-3M877.5 547.5h3" stroke="#000" stroke-width="1"/>
<text x="672.5" y="551.1" text-anchor="end">-30</text>
<path d="M703.5 325.5v-3.5M703.5 557.5v3.5" stroke="#000" stroke-width="1"/>
<text x="703.5" y="573.5" text-anchor="middle">154</text>
<path d="M738.5 325.5v-3.5M738.5 557.5v3.5" stroke="#000" stroke-width="1"/>
<text x="738.5" y="573.5" text-anchor="middle">156</text>
<path d="M773.5 325.5v-3.5M773.5 557.5v3.5" stroke="#000" stroke-width="1"/>
<text x="773.5" y="573.5" text-anchor="middle">158</text>
<path d="M809.5 325.5v-3.5M809.5 557.5v3.5" stroke="#000" stroke-width="1"/>
<text x="809.5" y="573.5" text-anchor="middle">160</text>
<path d="M844.5 325.5v-3.5M844.5 557.5v3.5" stroke="#000" stroke-width="1"/>
<text x="844.5" y="573.5" text-anchor="middle">162</text>
<text x="687.8" y="315.3" textLength="176.6" lengthAdjust="spacing">Altimetric SLA: 0.17 Argo: 0.091</text>
<text transform="translate(894.3,547.4) rotate(-90)" x="0" y="0" textLength="164.7" lengthAdjust="spacing">CSIRO 17-Apr-2011 10:31:16</text>
</svg>
</body></html>
